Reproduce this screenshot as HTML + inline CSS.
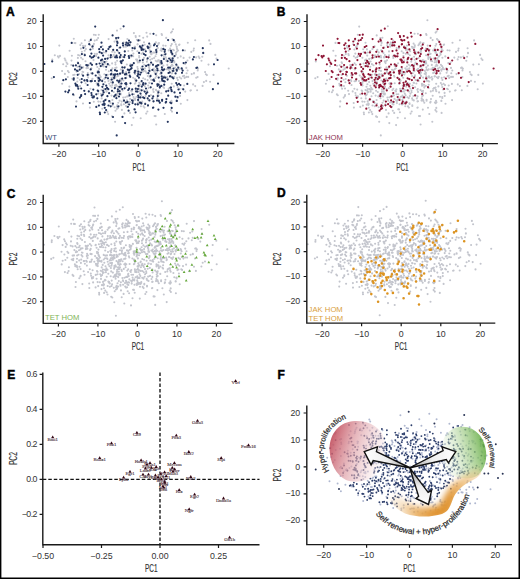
<!DOCTYPE html>
<html><head><meta charset="utf-8"><style>
html,body{margin:0;padding:0;background:#fff;width:520px;height:579px;overflow:hidden}

</style></head><body>
<svg width="520" height="579" viewBox="0 0 520 579" style="display:block;font-family:'Liberation Sans',sans-serif">
<rect x="0" y="0" width="520" height="579" fill="#000"/>
<rect x="1.4" y="1.5" width="517.1" height="576.0" fill="#fff"/>
<path d="M60.0 55.9h0M155.9 70.0h0M115.1 87.2h0M79.1 74.1h0M52.3 59.6h0M112.5 83.3h0M92.2 79.3h0M91.1 38.9h0M156.3 54.0h0M140.0 40.2h0M120.8 69.5h0M77.6 78.0h0M139.5 86.0h0M146.9 59.2h0M144.6 70.8h0M90.2 45.0h0M181.2 78.5h0M99.1 68.9h0M62.1 71.0h0M135.3 73.2h0M77.4 85.2h0M104.4 78.9h0M144.0 42.3h0M86.8 67.3h0M108.5 57.7h0M137.5 60.6h0M158.4 44.6h0M65.5 60.4h0M95.7 35.0h0M114.9 77.0h0M174.7 41.9h0M155.7 60.8h0M185.1 64.0h0M94.7 40.6h0M103.8 62.1h0M143.2 37.7h0M136.9 39.8h0M80.3 45.1h0M138.7 88.3h0M164.3 50.3h0M145.1 79.2h0M170.8 58.4h0M68.8 72.2h0M96.8 39.9h0M128.3 51.1h0M137.5 44.4h0M109.6 47.1h0M137.7 75.3h0M142.9 62.4h0M124.9 78.3h0M112.1 63.4h0M159.7 62.0h0M135.9 70.7h0M115.4 77.7h0M101.4 80.5h0M122.2 56.9h0M155.6 70.6h0M128.7 42.5h0M101.1 52.7h0M156.8 48.8h0M77.3 81.5h0M176.8 46.9h0M147.2 36.6h0M122.8 69.5h0M66.6 62.6h0M98.6 78.7h0M124.5 73.7h0M88.6 74.7h0M133.9 33.1h0M96.6 83.2h0M155.5 56.2h0M114.7 56.5h0M58.6 57.5h0M175.8 44.4h0M161.6 50.9h0M106.3 74.9h0M119.8 79.5h0M85.1 46.5h0M80.9 48.6h0M134.7 46.7h0M85.5 61.2h0M106.0 69.8h0M137.8 62.5h0M139.2 57.5h0M171.9 70.8h0M126.8 64.5h0M89.3 41.5h0M110.3 85.7h0M133.2 77.8h0M97.6 71.3h0M119.2 47.9h0M91.1 73.3h0M171.8 73.5h0M165.6 45.8h0M77.9 57.9h0M187.5 60.5h0M144.2 85.1h0M119.2 81.6h0M174.3 61.2h0M125.6 72.6h0M100.1 80.1h0M170.5 50.2h0M67.4 63.9h0M111.8 71.6h0M84.9 40.3h0M96.2 64.5h0M169.0 69.9h0M101.9 66.1h0M93.5 60.1h0M163.6 54.7h0M131.3 56.4h0M142.9 71.6h0M120.7 73.4h0M153.3 80.5h0M103.0 60.9h0M91.4 68.2h0M63.2 64.3h0M123.4 80.5h0M98.1 38.0h0M57.9 56.2h0M112.4 68.4h0M102.2 80.0h0M127.4 39.0h0M173.1 49.8h0M172.4 55.0h0M133.2 56.3h0M145.7 71.6h0M97.1 84.8h0M120.3 84.4h0M78.1 55.0h0M137.4 67.0h0M82.7 59.2h0M149.2 66.0h0M64.7 58.6h0M99.7 75.4h0M85.2 45.8h0M123.7 47.0h0M88.1 77.5h0M103.8 66.4h0M81.6 43.3h0M116.7 40.6h0M118.5 75.7h0M98.8 34.7h0M67.9 71.0h0M114.5 41.6h0M126.4 86.7h0M85.9 49.0h0M54.8 55.2h0M153.8 71.0h0M115.1 85.4h0M102.4 46.0h0M161.6 78.3h0M112.4 56.8h0M112.0 69.5h0M126.6 75.2h0M97.0 53.9h0M107.5 77.5h0M117.0 30.6h0M174.1 70.9h0M173.0 29.2h0M113.7 79.2h0M176.8 51.6h0M121.0 80.9h0M135.3 83.2h0M152.2 58.8h0M132.3 50.4h0M203.9 82.1h0M130.6 42.2h0M82.0 74.4h0M166.5 59.3h0M108.5 55.3h0M112.2 51.8h0M156.2 35.2h0M150.0 52.3h0M149.4 68.3h0M155.4 78.0h0M179.5 88.9h0M120.9 83.5h0M154.1 52.6h0M97.3 67.0h0M110.5 79.8h0M158.1 70.0h0M135.6 36.1h0M77.4 66.8h0M134.6 70.9h0M116.2 39.5h0M94.8 53.9h0M137.1 60.7h0M108.8 71.3h0M69.4 86.6h0M84.9 80.4h0M182.1 69.2h0M71.3 65.0h0M129.9 55.6h0M143.0 52.5h0M144.0 57.8h0M81.1 57.8h0M111.6 77.8h0M127.2 96.4h0M149.4 69.9h0M100.7 76.9h0M83.2 72.0h0M156.3 65.9h0M159.7 81.6h0M134.9 79.4h0M101.9 63.0h0M136.1 59.5h0M126.1 72.1h0M150.7 53.3h0M80.3 65.0h0M126.3 78.0h0M117.1 60.8h0M129.7 72.4h0M123.6 42.5h0M108.6 39.1h0M135.8 37.1h0M74.5 74.8h0M120.6 28.7h0M137.0 59.5h0M132.0 65.5h0M158.7 65.2h0M81.9 51.7h0M71.5 60.6h0M130.5 64.3h0M137.8 40.6h0M194.0 73.1h0M143.2 78.3h0M92.9 48.6h0M149.6 50.0h0M93.9 43.7h0M72.3 78.8h0M210.5 43.9h0M133.4 53.6h0M146.5 32.8h0M141.4 81.7h0M183.6 57.9h0M132.0 65.9h0M163.5 87.2h0M87.8 73.0h0M75.4 43.1h0M170.6 69.0h0M172.2 73.1h0M139.7 47.3h0M130.0 45.4h0M128.0 45.4h0M99.2 74.2h0M174.3 62.4h0M144.7 44.7h0M139.5 72.1h0M135.1 73.6h0M157.8 48.0h0M139.5 36.1h0M147.6 80.1h0M83.0 103.5h0M139.6 84.9h0M196.2 77.8h0M104.9 63.7h0M118.1 51.4h0M152.5 63.8h0M154.7 72.8h0M143.5 58.9h0M67.8 77.0h0M139.4 62.2h0M82.5 71.8h0M140.9 48.2h0M112.4 75.0h0M149.7 77.6h0M228.7 68.5h0M148.6 88.1h0M146.8 73.3h0M92.2 73.4h0M100.7 47.1h0M86.5 68.3h0M104.4 74.2h0M85.6 83.2h0M100.2 80.5h0M115.4 62.5h0M88.7 64.9h0M74.5 43.0h0M76.5 71.6h0M137.7 44.2h0M124.4 57.3h0M157.0 61.5h0M157.7 94.0h0M110.9 82.3h0M145.0 49.4h0M73.8 38.8h0M199.5 58.1h0M162.8 49.1h0M115.2 68.0h0M83.2 67.4h0M135.2 72.2h0M59.3 45.6h0M96.1 55.9h0M147.7 65.2h0M125.0 66.7h0M105.9 52.4h0M105.7 99.3h0M150.7 95.4h0M144.9 86.4h0M119.8 88.6h0M129.1 93.1h0M126.2 77.8h0M117.3 105.4h0M135.2 100.0h0M100.9 93.7h0M116.8 109.0h0M123.9 104.2h0M116.9 106.6h0M115.5 110.7h0M126.9 100.3h0M141.1 103.4h0M143.0 83.8h0M122.6 90.4h0M92.7 97.8h0M93.8 101.8h0M126.9 107.1h0M118.5 86.9h0M137.6 103.3h0M138.5 101.6h0M136.7 91.0h0M116.1 96.2h0M139.2 82.8h0M117.9 108.3h0M143.4 90.4h0M129.1 101.8h0M116.1 84.8h0M133.5 97.0h0M111.7 87.3h0M109.4 102.0h0M102.3 108.7h0M126.0 106.0h0M121.7 101.6h0M121.3 105.3h0M116.7 85.9h0M142.4 84.7h0M116.5 94.0h0M112.4 105.4h0M139.7 97.4h0M142.2 102.3h0M127.1 83.7h0M98.2 93.6h0M171.7 83.8h0M197.6 77.1h0M193.9 48.5h0M196.1 57.4h0M193.1 84.4h0M171.8 44.1h0M216.5 58.6h0M203.2 53.2h0M161.3 74.1h0M177.3 65.9h0M185.2 91.6h0M190.9 90.3h0M198.6 56.6h0M205.1 72.1h0M179.4 69.3h0M206.9 75.1h0M177.7 87.1h0M163.2 45.6h0M166.2 37.9h0M210.1 81.8h0M165.8 57.4h0M163.4 65.6h0M164.4 76.2h0M184.1 75.8h0M160.3 73.7h0M176.0 54.6h0M202.3 56.8h0M179.1 44.9h0M172.5 55.1h0M171.0 32.6h0M209.2 40.4h0M208.5 64.6h0M137.5 71.2h0M161.4 48.5h0M215.3 54.9h0M172.7 65.6h0M153.0 89.7h0M180.1 95.9h0M177.8 57.8h0M178.1 50.5h0M170.5 49.9h0M173.8 86.4h0M170.9 45.8h0M186.6 73.2h0M163.9 57.1h0M174.2 56.6h0M177.1 77.9h0M205.9 74.2h0M187.4 100.1h0M177.8 79.9h0M156.7 50.7h0M148.2 85.5h0M156.4 76.3h0M137.8 68.9h0M139.1 56.0h0M136.0 80.3h0M167.3 64.9h0M154.1 58.0h0M158.9 60.7h0M158.6 60.3h0M150.1 64.5h0M147.8 76.0h0M121.1 79.1h0M131.7 91.5h0M119.6 100.6h0M101.7 98.4h0M104.4 91.9h0M125.3 97.3h0M140.9 106.3h0M121.9 109.9h0M113.7 92.0h0M157.3 98.4h0M139.8 89.5h0M144.5 107.6h0M106.7 91.7h0M120.7 93.5h0M155.6 116.1h0M110.5 102.9h0M158.7 95.5h0M134.0 94.2h0M147.1 90.6h0M123.7 99.9h0M130.0 112.9h0M159.4 84.8h0M112.4 100.0h0M161.3 93.3h0M131.2 90.7h0M140.1 84.6h0M118.9 83.3h0M108.5 81.1h0M117.3 76.3h0M111.5 95.6h0M154.6 116.0h0M106.2 99.6h0M98.3 101.6h0M156.0 89.9h0M151.0 95.2h0M153.1 101.4h0M113.1 77.2h0M144.5 98.1h0M128.3 96.3h0M109.7 101.2h0M118.9 106.0h0M139.5 91.5h0M157.5 91.2h0M121.5 79.8h0M105.0 82.0h0M135.2 98.6h0M108.2 114.1h0M137.8 73.3h0M135.9 90.3h0M97.4 77.2h0M171.4 100.7h0M156.2 124.5h0M150.6 75.3h0M102.1 95.1h0M120.7 94.5h0M117.3 95.6h0M120.5 87.5h0M103.6 89.0h0M140.7 118.2h0M135.8 81.4h0M139.1 103.6h0M118.3 102.8h0M161.1 72.6h0M134.8 83.7h0M115.1 121.8h0M129.0 94.1h0M153.4 89.0h0M123.2 97.5h0M124.4 113.4h0M114.6 107.2h0M146.2 113.6h0M119.7 93.4h0M116.0 85.1h0M112.7 82.3h0M143.6 106.4h0M117.7 93.1h0M90.4 88.7h0M145.2 103.4h0M179.5 44.5h0M149.4 48.1h0M168.7 50.4h0M167.8 78.8h0M177.0 48.9h0M147.3 59.8h0M155.5 67.0h0M159.0 43.1h0M201.5 60.8h0M155.9 42.4h0M158.4 43.4h0M156.6 72.8h0M151.6 54.1h0M172.0 64.5h0M170.8 51.0h0M193.5 50.6h0M166.3 60.7h0M150.4 46.8h0M175.1 67.5h0M176.7 46.5h0M172.0 31.5h0M177.9 68.9h0M156.6 75.9h0M173.5 60.2h0M185.0 50.5h0M191.3 51.9h0M150.4 45.3h0M195.2 40.2h0M160.6 50.2h0M149.7 56.7h0M166.7 69.3h0M141.0 68.2h0M170.2 62.3h0M175.8 53.1h0M166.1 53.7h0M180.7 56.4h0M163.8 58.3h0M170.1 48.6h0M141.5 53.8h0M170.9 52.7h0M153.2 52.6h0M161.1 63.2h0M168.2 69.3h0M173.9 50.3h0M137.4 51.2h0M71.9 55.8h0M148.8 67.0h0M112.0 116.4h0M135.1 46.9h0M112.3 85.1h0M172.5 39.1h0M81.1 68.7h0M172.0 102.2h0M103.8 52.5h0M116.5 67.6h0M159.8 64.4h0M182.9 76.2h0M153.6 91.9h0M91.9 47.0h0M110.0 102.0h0M77.8 62.5h0M172.0 111.6h0M155.2 43.4h0M92.5 78.8h0M80.1 86.1h0M147.9 105.9h0M191.7 74.1h0M113.7 54.9h0M87.5 75.4h0M74.0 95.3h0M161.6 62.8h0M62.2 83.8h0M130.0 102.1h0M133.7 99.4h0M146.9 61.8h0M88.0 68.0h0M113.2 50.4h0M84.7 50.7h0M83.0 45.9h0M169.5 88.1h0M213.5 74.9h0M182.5 88.8h0M188.2 76.9h0M160.3 70.8h0M162.0 35.0h0M125.9 46.7h0M180.8 103.8h0M149.6 82.9h0M197.1 90.3h0M106.5 61.5h0M197.7 70.4h0M89.9 107.6h0M164.1 88.0h0M189.6 57.6h0M170.9 110.1h0M167.3 77.0h0M142.2 101.5h0M107.7 74.7h0M157.5 83.7h0M177.7 98.0h0M186.3 67.9h0M73.2 75.0h0M150.2 33.7h0M66.2 66.2h0M170.7 69.0h0M105.9 51.0h0M79.8 55.5h0M206.2 80.9h0M64.9 73.9h0M198.1 68.6h0M77.8 62.3h0M190.4 90.6h0M194.0 73.5h0M128.2 103.9h0M134.0 109.3h0M109.4 65.2h0M135.1 78.9h0M164.8 114.0h0M136.5 96.8h0M179.6 77.3h0M187.8 42.8h0M151.1 54.2h0M150.3 59.8h0M133.4 117.8h0M151.2 79.9h0M87.5 67.0h0M153.7 68.9h0M145.0 68.4h0M98.5 82.9h0M93.7 44.6h0M98.2 79.8h0M148.2 99.7h0M101.5 90.1h0M69.6 50.8h0M93.9 34.8h0M130.2 98.9h0M149.9 71.2h0M184.1 85.5h0M171.1 66.1h0M187.6 70.5h0M161.6 34.0h0M115.5 64.5h0M184.6 77.9h0M114.7 52.4h0M109.2 83.8h0M202.6 85.9h0M145.5 96.1h0M168.7 88.7h0M174.2 76.7h0M76.5 101.4h0M131.8 125.1h0M84.5 54.0h0M141.2 95.3h0M106.6 89.9h0M195.2 86.1h0M158.5 99.7h0M100.5 101.8h0M135.1 74.1h0M137.7 61.2h0M159.7 60.9h0M147.4 111.5h0M51.7 78.3h0M121.2 104.3h0M158.1 60.4h0M149.2 82.8h0M186.4 76.9h0M79.8 79.7h0M158.7 90.8h0M107.4 111.9h0M144.3 64.7h0" stroke="#c3c5cd" stroke-width="2.10" stroke-linecap="round" fill="none"/>
<path d="M114.8 88.2h0M143.1 84.7h0M134.7 109.4h0M128.8 56.2h0M119.9 57.1h0M166.1 101.9h0M170.0 76.4h0M137.9 89.1h0M141.4 103.5h0M77.7 74.8h0M115.2 57.3h0M109.4 47.1h0M130.7 66.1h0M81.6 67.7h0M73.8 78.3h0M77.7 86.5h0M170.4 76.3h0M140.5 97.4h0M117.2 80.5h0M161.8 76.4h0M142.6 45.6h0M146.1 65.9h0M106.2 85.7h0M173.5 68.6h0M169.9 67.7h0M83.1 75.7h0M111.8 79.6h0M157.4 84.4h0M79.9 97.6h0M75.4 83.7h0M77.7 71.0h0M129.0 40.5h0M196.4 67.9h0M148.5 47.3h0M104.8 107.8h0M143.9 54.0h0M99.6 52.2h0M150.5 76.2h0M158.9 100.9h0M165.0 49.8h0M123.1 45.5h0M152.4 98.4h0M98.5 77.9h0M153.6 101.3h0M121.5 83.5h0M122.5 116.9h0M163.9 59.0h0M98.0 84.2h0M87.7 74.8h0M147.7 98.3h0M110.7 57.3h0M97.7 90.6h0M183.6 63.1h0M107.8 64.3h0M120.7 61.4h0M171.5 52.3h0M153.3 107.5h0M122.3 67.3h0M187.3 83.9h0M85.1 94.1h0M91.4 93.0h0M108.3 89.2h0M124.6 88.3h0M154.7 44.3h0M115.0 70.2h0M129.1 57.9h0M93.2 57.1h0M156.5 66.3h0M180.4 85.1h0M139.9 60.5h0M98.9 105.6h0M119.9 57.5h0M162.1 99.8h0M129.7 75.7h0M169.1 58.5h0M137.5 75.9h0M160.0 86.7h0M157.5 85.8h0M81.2 95.1h0M145.5 55.2h0M130.7 69.1h0M183.3 89.3h0M77.0 85.2h0M148.3 47.4h0M145.6 83.7h0M107.4 96.2h0M103.4 84.3h0M120.0 73.7h0M115.3 74.4h0M148.1 48.1h0M149.3 70.8h0M159.8 87.6h0M75.9 65.3h0M95.0 81.0h0M116.5 55.7h0M140.9 102.9h0M163.7 81.1h0M105.1 58.9h0M163.0 70.3h0M158.0 65.2h0M177.2 84.8h0M105.3 100.1h0M95.7 75.5h0M87.0 80.1h0M174.5 92.4h0M116.9 70.9h0M107.1 87.8h0M119.5 86.8h0M83.4 47.8h0M65.9 79.3h0M132.4 94.3h0M177.6 97.0h0M142.0 69.7h0M167.6 79.6h0M182.7 70.6h0M135.6 112.3h0M143.3 83.1h0M151.1 62.6h0M92.0 64.8h0M135.8 88.7h0M156.0 66.3h0M102.8 94.5h0M148.0 105.3h0M73.7 79.7h0M127.9 106.8h0M138.5 40.4h0M141.7 48.2h0M92.6 46.4h0M139.1 52.9h0M99.2 49.2h0M163.9 77.3h0M99.9 79.9h0M101.8 53.2h0M130.4 65.7h0M170.7 87.7h0M79.7 69.6h0M165.4 77.7h0M84.4 80.4h0M98.8 81.0h0M157.8 96.1h0M132.2 89.4h0M69.1 90.4h0M90.6 63.3h0M168.2 95.7h0M104.6 62.0h0M178.5 89.5h0M176.6 69.6h0M87.6 65.4h0M75.9 85.6h0M176.2 83.0h0M122.9 60.3h0M145.2 104.0h0M102.6 104.6h0M119.7 94.1h0M93.7 97.3h0M162.1 69.6h0M103.1 55.6h0M84.8 55.2h0M127.8 69.7h0M176.8 70.7h0M126.3 73.9h0M166.4 99.1h0M149.1 96.0h0M157.3 68.5h0M88.8 91.4h0M92.4 73.4h0M84.3 90.8h0M117.9 89.3h0M110.5 46.4h0M173.4 78.3h0M73.2 65.7h0M118.8 82.0h0M119.6 91.2h0M145.8 51.3h0M171.8 62.0h0M114.1 77.9h0M132.6 103.1h0M141.8 86.6h0M129.1 88.7h0M164.7 51.8h0M164.7 81.5h0M144.3 98.1h0M176.9 100.9h0M81.8 79.0h0M171.7 91.2h0M181.7 68.4h0M169.7 72.4h0M168.5 73.0h0M134.7 48.4h0M129.4 45.1h0M141.6 49.9h0M90.6 81.2h0M185.9 62.5h0M98.5 85.4h0M156.1 50.0h0M124.0 100.7h0M175.6 73.4h0M120.2 47.5h0M164.2 84.7h0M102.2 81.1h0M153.0 107.8h0M98.2 91.1h0M93.9 96.4h0M149.2 43.6h0M93.3 89.6h0M176.3 64.7h0M125.5 78.1h0M161.4 85.9h0M170.3 102.5h0M164.2 69.4h0M113.2 49.8h0M108.4 49.0h0M170.6 60.1h0M101.7 95.6h0M138.1 99.9h0M121.1 62.5h0M147.3 92.3h0M146.1 93.7h0M161.6 55.3h0M140.0 102.6h0M150.7 87.3h0M141.0 47.4h0M109.1 93.2h0M96.3 94.3h0M91.7 95.2h0M174.6 56.0h0M115.5 94.9h0M116.4 98.2h0M158.4 109.6h0M149.4 100.4h0M102.9 49.4h0M122.2 89.1h0M157.0 100.6h0M158.5 84.7h0M150.9 51.6h0M155.7 74.1h0M112.0 90.8h0M139.9 46.3h0M81.2 88.5h0M162.3 80.7h0M91.4 53.6h0M124.8 51.4h0M98.8 72.2h0M119.0 96.5h0M161.7 63.5h0M102.7 64.4h0M165.2 54.3h0M104.2 103.6h0M126.2 84.5h0M81.9 54.1h0M90.0 56.3h0M91.8 81.1h0M125.0 74.4h0M124.8 55.2h0M110.9 55.2h0M79.5 66.5h0M153.0 64.8h0M129.2 104.5h0M108.0 78.3h0M119.3 53.0h0M161.4 62.4h0M132.7 100.9h0M147.7 58.3h0M156.4 52.1h0M161.9 67.4h0M117.8 91.3h0M102.1 59.6h0M120.9 86.7h0M81.1 96.0h0M134.6 72.6h0M217.6 60.0h0M171.3 89.8h0M90.7 69.4h0M99.2 78.4h0M166.2 91.4h0M101.0 47.0h0M105.7 77.5h0M162.0 79.1h0M161.3 61.1h0M117.0 57.4h0M90.4 49.5h0M75.0 69.4h0M105.4 89.1h0M157.2 65.6h0M107.8 64.1h0M147.6 46.7h0M197.1 67.5h0M172.3 53.9h0M89.2 44.2h0M161.4 72.9h0M171.7 107.9h0M103.7 101.4h0M96.3 106.9h0M126.4 42.6h0M73.1 94.4h0M182.9 50.3h0M44.4 64.0h0M90.8 40.0h0M120.7 55.1h0M122.2 78.6h0M136.3 80.6h0M140.1 74.6h0M122.7 72.7h0M171.0 87.6h0M53.9 77.1h0M130.4 42.3h0M104.8 112.5h0M135.1 70.9h0M138.2 95.6h0M97.8 72.4h0M107.5 58.6h0M158.7 77.6h0M142.8 60.0h0M106.1 110.1h0M203.2 52.9h0M212.9 89.2h0M78.1 63.2h0M141.1 72.5h0M158.4 92.4h0M138.3 71.7h0M122.9 43.4h0M111.0 70.3h0M122.8 70.9h0M110.7 106.3h0M157.0 46.0h0M116.1 38.1h0M114.6 75.8h0M87.4 81.1h0M128.6 110.7h0M98.4 57.7h0M167.6 61.2h0M143.4 49.6h0M148.4 64.9h0M143.1 97.3h0M132.5 48.0h0M125.8 102.6h0M119.4 80.9h0M157.5 70.5h0M91.6 57.7h0M178.3 67.6h0M131.6 68.2h0M103.6 92.5h0M112.9 103.7h0M106.2 75.1h0M136.1 91.5h0M104.7 104.1h0M171.2 103.2h0M102.4 86.8h0M104.2 105.0h0M128.9 72.5h0M168.2 67.7h0M153.5 33.8h0M103.1 90.8h0M193.9 57.0h0M141.7 81.0h0M130.5 83.3h0M168.1 40.1h0M218.0 83.6h0M176.7 100.9h0M135.3 104.3h0M143.0 69.3h0M152.4 69.9h0M108.5 105.5h0M92.5 97.3h0M132.2 65.1h0M96.5 64.1h0M128.2 90.0h0M133.8 63.2h0M214.0 64.3h0M100.0 114.2h0M126.0 83.0h0M124.5 67.6h0M146.0 88.5h0M167.8 121.8h0M112.8 82.4h0M101.0 60.4h0M71.7 42.9h0M132.0 100.3h0M94.1 56.1h0M117.0 50.2h0M131.5 55.5h0M148.4 73.2h0M109.2 101.0h0M121.4 63.1h0M65.4 91.6h0M52.2 61.4h0M118.3 37.8h0M138.2 95.7h0M117.0 45.3h0M101.5 42.7h0M128.2 43.4h0M130.2 76.8h0M127.4 101.9h0M63.3 80.2h0M125.1 123.1h0M99.8 112.5h0M110.8 74.4h0M138.5 97.4h0M153.3 79.9h0M162.4 78.7h0M112.6 35.4h0M163.4 48.9h0M172.3 77.3h0M171.0 50.8h0M180.0 92.9h0M125.2 83.5h0M124.1 57.1h0M159.8 102.7h0M81.5 82.3h0M137.8 104.4h0M111.4 73.9h0M117.2 41.8h0M68.1 92.3h0M98.5 71.6h0M129.6 95.4h0M162.1 100.8h0M165.7 102.6h0M127.5 45.5h0M123.6 26.3h0M100.7 66.1h0M144.7 91.6h0M121.5 61.4h0M152.0 83.5h0M192.9 59.4h0M129.2 70.2h0M76.9 70.5h0M99.6 63.5h0M78.3 88.7h0M87.6 85.0h0M177.0 112.9h0M138.5 85.8h0M76.0 106.6h0M153.7 79.5h0M175.4 96.7h0M117.5 74.2h0M106.2 66.8h0M118.3 106.5h0M140.5 93.6h0M153.2 96.4h0M172.6 60.6h0M173.7 40.2h0M172.7 58.3h0M179.0 83.8h0M154.0 45.3h0M125.7 44.6h0M141.6 90.3h0M116.7 135.4h0M162.9 20.2h0M117.5 42.9h0M97.3 98.3h0M182.0 72.8h0M154.2 80.9h0M138.2 74.2h0M163.5 107.8h0M168.3 90.8h0M142.5 66.5h0M106.2 51.0h0M114.0 74.7h0M95.2 26.6h0M137.5 91.6h0M173.0 70.9h0M113.0 117.0h0M89.8 103.0h0M202.8 48.2h0M114.2 96.4h0M86.3 65.1h0M138.9 77.7h0" stroke="#24355e" stroke-width="2.20" stroke-linecap="round" fill="none"/>
<path d="M43.2 14.2V143.5H234.4" stroke="#1a1a1a" stroke-width="1.4" fill="none"/>
<text x="58.9" y="157.3" font-size="8.80" fill="#333" text-anchor="middle" font-weight="normal">−20</text>
<text x="98.6" y="157.3" font-size="8.80" fill="#333" text-anchor="middle" font-weight="normal">−10</text>
<text x="138.3" y="157.3" font-size="8.80" fill="#333" text-anchor="middle" font-weight="normal">0</text>
<text x="178.0" y="157.3" font-size="8.80" fill="#333" text-anchor="middle" font-weight="normal">10</text>
<text x="217.7" y="157.3" font-size="8.80" fill="#333" text-anchor="middle" font-weight="normal">20</text>
<text x="36.6" y="123.9" font-size="8.80" fill="#333" text-anchor="end" font-weight="normal">−20</text>
<text x="36.6" y="99.0" font-size="8.80" fill="#333" text-anchor="end" font-weight="normal">−10</text>
<text x="36.6" y="74.0" font-size="8.80" fill="#333" text-anchor="end" font-weight="normal">0</text>
<text x="36.6" y="49.1" font-size="8.80" fill="#333" text-anchor="end" font-weight="normal">10</text>
<text x="36.6" y="24.1" font-size="8.80" fill="#333" text-anchor="end" font-weight="normal">20</text>
<path d="M58.9 143.5v3.2M98.6 143.5v3.2M138.3 143.5v3.2M178.0 143.5v3.2M217.7 143.5v3.2M43.2 121.3h-3.2M43.2 96.4h-3.2M43.2 71.4h-3.2M43.2 46.5h-3.2M43.2 21.5h-3.2" stroke="#1a1a1a" stroke-width="1.2" fill="none"/>
<text transform="translate(138.8 170.5) scale(0.62 1)" font-size="10.4" fill="#333" stroke="#333" stroke-width="0.18" text-anchor="middle">PC1</text>
<text transform="translate(17.3 78.8) rotate(-90) scale(0.64 1)" font-size="10.4" fill="#333" stroke="#333" stroke-width="0.18" text-anchor="middle">PC2</text>
<text x="6.0" y="15.8" font-size="12.00" fill="#000" text-anchor="start" font-weight="bold" stroke="#000" stroke-width="0.45">A</text>
<text x="45.0" y="140.1" font-size="7.70" fill="#3b4f7a" text-anchor="start" font-weight="normal">WT</text>
<path d="M379.0 88.2h0M407.4 84.7h0M399.0 109.4h0M393.0 56.2h0M384.0 57.1h0M430.6 101.9h0M434.6 76.4h0M402.2 89.1h0M405.7 103.5h0M341.6 74.8h0M379.3 57.3h0M373.5 47.1h0M395.0 66.1h0M345.5 67.7h0M337.7 78.3h0M341.5 86.5h0M435.0 76.3h0M404.8 97.4h0M381.4 80.5h0M426.3 76.4h0M407.0 45.6h0M410.4 65.9h0M370.3 85.7h0M438.0 68.6h0M434.4 67.7h0M346.9 75.7h0M375.9 79.6h0M421.9 84.4h0M343.7 97.6h0M339.3 83.7h0M341.6 71.0h0M393.3 40.5h0M461.1 67.9h0M412.8 47.3h0M368.8 107.8h0M408.3 54.0h0M363.6 52.2h0M414.9 76.2h0M423.4 100.9h0M429.5 49.8h0M387.3 45.5h0M416.8 98.4h0M362.5 77.9h0M418.0 101.3h0M385.6 83.5h0M386.7 116.9h0M428.4 59.0h0M362.0 84.2h0M351.6 74.8h0M412.1 98.3h0M374.8 57.3h0M361.7 90.6h0M448.3 63.1h0M371.9 64.3h0M384.8 61.4h0M436.0 52.3h0M417.7 107.5h0M386.4 67.3h0M451.9 83.9h0M349.0 94.1h0M355.4 93.0h0M372.4 89.2h0M388.8 88.3h0M419.1 44.3h0M379.1 70.2h0M393.3 57.9h0M357.2 57.1h0M420.9 66.3h0M445.0 85.1h0M404.2 60.5h0M362.9 105.6h0M384.1 57.5h0M426.6 99.8h0M394.0 75.7h0M433.6 58.5h0M401.8 75.9h0M424.4 86.7h0M422.0 85.8h0M345.1 95.1h0M409.9 55.2h0M394.9 69.1h0M447.9 89.3h0M340.8 85.2h0M412.7 47.4h0M409.9 83.7h0M371.5 96.2h0M367.4 84.3h0M384.2 73.7h0M379.4 74.4h0M412.5 48.1h0M413.7 70.8h0M424.3 87.6h0M339.7 65.3h0M359.0 81.0h0M380.7 55.7h0M405.3 102.9h0M428.2 81.1h0M369.2 58.9h0M427.5 70.3h0M422.4 65.2h0M441.8 84.8h0M369.4 100.1h0M359.7 75.5h0M350.9 80.1h0M439.1 92.4h0M381.0 70.9h0M371.2 87.8h0M383.7 86.8h0M347.3 47.8h0M329.7 79.3h0M396.6 94.3h0M442.2 97.0h0M406.3 69.7h0M432.1 79.6h0M447.4 70.6h0M399.9 112.3h0M407.6 83.1h0M415.5 62.6h0M355.9 64.8h0M400.1 88.7h0M420.5 66.3h0M366.8 94.5h0M412.3 105.3h0M337.5 79.7h0M392.1 106.8h0M402.8 40.4h0M406.0 48.2h0M356.6 46.4h0M403.4 52.9h0M363.2 49.2h0M428.4 77.3h0M363.9 79.9h0M365.8 53.2h0M394.7 65.7h0M435.2 87.7h0M343.5 69.6h0M429.9 77.7h0M348.3 80.4h0M362.8 81.0h0M422.2 96.1h0M396.4 89.4h0M332.9 90.4h0M354.5 63.3h0M432.7 95.7h0M368.7 62.0h0M443.1 89.5h0M441.2 69.6h0M351.5 65.4h0M339.7 85.6h0M440.8 83.0h0M387.1 60.3h0M409.6 104.0h0M366.7 104.6h0M383.9 94.1h0M357.7 97.3h0M426.6 69.6h0M367.2 55.6h0M348.7 55.2h0M392.0 69.7h0M441.4 70.7h0M390.5 73.9h0M431.0 99.1h0M413.4 96.0h0M421.7 68.5h0M352.7 91.4h0M356.3 73.4h0M348.2 90.8h0M382.0 89.3h0M374.6 46.4h0M438.0 78.3h0M337.0 65.7h0M383.0 82.0h0M383.7 91.2h0M410.2 51.3h0M436.4 62.0h0M378.2 77.9h0M396.9 103.1h0M406.2 86.6h0M393.3 88.7h0M429.2 51.8h0M429.2 81.5h0M408.7 98.1h0M441.4 100.9h0M345.7 79.0h0M436.3 91.2h0M446.3 68.4h0M434.2 72.4h0M433.1 73.0h0M398.9 48.4h0M393.6 45.1h0M406.0 49.9h0M354.5 81.2h0M450.5 62.5h0M362.5 85.4h0M420.5 50.0h0M388.2 100.7h0M440.2 73.4h0M384.3 47.5h0M428.7 84.7h0M366.3 81.1h0M417.4 107.8h0M362.2 91.1h0M357.9 96.4h0M413.6 43.6h0M357.2 89.6h0M440.9 64.7h0M389.7 78.1h0M425.8 85.9h0M434.9 102.5h0M428.7 69.4h0M377.3 49.8h0M372.4 49.0h0M435.1 60.1h0M365.7 95.6h0M402.4 99.9h0M385.3 62.5h0M411.6 92.3h0M410.4 93.7h0M426.1 55.3h0M404.3 102.6h0M415.1 87.3h0M405.3 47.4h0M373.2 93.2h0M360.3 94.3h0M355.7 95.2h0M439.2 56.0h0M379.7 94.9h0M380.5 98.2h0M422.8 109.6h0M413.8 100.4h0M366.9 49.4h0M386.4 89.1h0M421.5 100.6h0M423.0 84.7h0M415.3 51.6h0M420.2 74.1h0M376.1 90.8h0M404.2 46.3h0M345.0 88.5h0M426.7 80.7h0M355.3 53.6h0M389.0 51.4h0M362.8 72.2h0M383.1 96.5h0M426.2 63.5h0M366.8 64.4h0M429.7 54.3h0M368.3 103.6h0M390.4 84.5h0M345.8 54.1h0M353.9 56.3h0M355.8 81.1h0M389.2 74.4h0M389.0 55.2h0M375.0 55.2h0M343.4 66.5h0M417.4 64.8h0M393.5 104.5h0M372.1 78.3h0M383.5 53.0h0M425.9 62.4h0M396.9 100.9h0M412.1 58.3h0M420.8 52.1h0M426.3 67.4h0M382.0 91.3h0M366.1 59.6h0M385.0 86.7h0M344.9 96.0h0M398.9 72.6h0M482.5 60.0h0M435.8 89.8h0M354.7 69.4h0M363.2 78.4h0M430.8 91.4h0M365.0 47.0h0M369.8 77.5h0M426.5 79.1h0M425.7 61.1h0M381.1 57.4h0M354.4 49.5h0M338.8 69.4h0M369.4 89.1h0M421.6 65.6h0M371.9 64.1h0M411.9 46.7h0M461.9 67.5h0M436.8 53.9h0M353.2 44.2h0M425.9 72.9h0M436.3 107.9h0M367.7 101.4h0M360.3 106.9h0M390.7 42.6h0M336.9 94.4h0M447.5 50.3h0M308.0 64.0h0M354.8 40.0h0M384.9 55.1h0M386.4 78.6h0M400.6 80.6h0M404.4 74.6h0M386.9 72.7h0M435.5 87.6h0M317.6 77.1h0M394.6 42.3h0M368.9 112.5h0M399.4 70.9h0M402.5 95.6h0M361.8 72.4h0M371.5 58.6h0M423.1 77.6h0M407.2 60.0h0M370.1 110.1h0M468.0 52.9h0M477.7 89.2h0M342.0 63.2h0M405.5 72.5h0M422.8 92.4h0M402.6 71.7h0M387.1 43.4h0M375.1 70.3h0M386.9 70.9h0M374.8 106.3h0M421.4 46.0h0M380.3 38.1h0M378.7 75.8h0M351.3 81.1h0M392.8 110.7h0M362.4 57.7h0M432.1 61.2h0M407.8 49.6h0M412.8 64.9h0M407.4 97.3h0M396.7 48.0h0M390.0 102.6h0M383.5 80.9h0M421.9 70.5h0M355.6 57.7h0M442.9 67.6h0M395.8 68.2h0M367.6 92.5h0M377.0 103.7h0M370.2 75.1h0M400.4 91.5h0M368.8 104.1h0M435.7 103.2h0M366.5 86.8h0M368.3 105.0h0M393.2 72.5h0M432.7 67.7h0M417.9 33.8h0M367.2 90.8h0M458.6 57.0h0M406.1 81.0h0M394.7 83.3h0M432.6 40.1h0M482.9 83.6h0M441.3 100.9h0M399.6 104.3h0M407.4 69.3h0M416.8 69.9h0M372.5 105.5h0M356.5 97.3h0M396.5 65.1h0M360.5 64.1h0M392.4 90.0h0M398.1 63.2h0M478.9 64.3h0M364.0 114.2h0M390.2 83.0h0M388.7 67.6h0M410.3 88.5h0M432.3 121.8h0M376.9 82.4h0M365.0 60.4h0M335.5 42.9h0M396.2 100.3h0M358.0 56.1h0M381.2 50.2h0M395.7 55.5h0M412.7 73.2h0M373.2 101.0h0M385.6 63.1h0M329.1 91.6h0M315.8 61.4h0M382.4 37.8h0M402.5 95.7h0M381.1 45.3h0M365.5 42.7h0M392.4 43.4h0M394.4 76.8h0M391.6 101.9h0M327.0 80.2h0M389.3 123.1h0M363.8 112.5h0M374.9 74.4h0M402.8 97.4h0M417.7 79.9h0M426.9 78.7h0M376.7 35.4h0M427.9 48.9h0M436.9 77.3h0M435.5 50.8h0M444.6 92.9h0M389.4 83.5h0M388.3 57.1h0M424.3 102.7h0M345.4 82.3h0M402.1 104.4h0M375.5 73.9h0M381.3 41.8h0M331.9 92.3h0M362.5 71.6h0M393.9 95.4h0M426.6 100.8h0M430.2 102.6h0M391.7 45.5h0M387.8 26.3h0M364.7 66.1h0M409.1 91.6h0M385.7 61.4h0M416.4 83.5h0M457.7 59.4h0M393.4 70.2h0M340.7 70.5h0M363.6 63.5h0M342.1 88.7h0M351.5 85.0h0M441.6 112.9h0M402.8 85.8h0M339.9 106.6h0M418.1 79.5h0M440.0 96.7h0M381.6 74.2h0M370.3 66.8h0M382.5 106.5h0M404.8 93.6h0M417.6 96.4h0M437.2 60.6h0M438.2 40.2h0M437.3 58.3h0M443.6 83.8h0M418.4 45.3h0M389.9 44.6h0M405.9 90.3h0M380.8 135.4h0M427.4 20.2h0M381.6 42.9h0M361.3 98.3h0M446.6 72.8h0M418.6 80.9h0M402.5 74.2h0M428.0 107.8h0M432.9 90.8h0M406.9 66.5h0M370.3 51.0h0M378.2 74.7h0M359.2 26.6h0M401.8 91.6h0M437.5 70.9h0M377.1 117.0h0M353.7 103.0h0M467.6 48.2h0M378.3 96.4h0M350.2 65.1h0M403.2 77.7h0M436.2 83.8h0M462.4 77.1h0M458.6 48.5h0M460.9 57.4h0M457.8 84.4h0M436.3 44.1h0M481.4 58.6h0M468.0 53.2h0M425.8 74.1h0M441.9 65.9h0M449.8 91.6h0M455.6 90.3h0M463.4 56.6h0M469.9 72.1h0M444.0 69.3h0M471.7 75.1h0M442.3 87.1h0M427.7 45.6h0M430.7 37.9h0M474.9 81.8h0M430.3 57.4h0M427.9 65.6h0M428.9 76.2h0M448.7 75.8h0M424.7 73.7h0M440.6 54.6h0M467.1 56.8h0M443.7 44.9h0M437.1 55.1h0M435.6 32.6h0M474.1 40.4h0M473.3 64.6h0M401.8 71.2h0M425.9 48.5h0M480.1 54.9h0M437.3 65.6h0M417.4 89.7h0M444.7 95.9h0M442.4 57.8h0M442.7 50.5h0M435.0 49.9h0M438.4 86.4h0M435.5 45.8h0M451.3 73.2h0M428.3 57.1h0M438.8 56.6h0M441.7 77.9h0M470.7 74.2h0M452.1 100.1h0M442.4 79.9h0M421.1 50.7h0M412.6 85.5h0M420.9 76.3h0M402.1 68.9h0M403.4 56.0h0M400.2 80.3h0M431.8 64.9h0M418.5 58.0h0M423.4 60.7h0M423.1 60.3h0M414.5 64.5h0M412.1 76.0h0M385.2 79.1h0M396.0 91.5h0M383.7 100.6h0M365.8 98.4h0M368.4 91.9h0M389.5 97.3h0M405.3 106.3h0M386.0 109.9h0M377.8 92.0h0M421.7 98.4h0M404.1 89.5h0M408.9 107.6h0M370.7 91.7h0M384.9 93.5h0M420.0 116.1h0M374.6 102.9h0M423.1 95.5h0M398.3 94.2h0M411.5 90.6h0M387.9 99.9h0M394.2 112.9h0M423.9 84.8h0M376.6 100.0h0M425.8 93.3h0M395.4 90.7h0M404.4 84.6h0M383.1 83.3h0M372.5 81.1h0M381.5 76.3h0M375.6 95.6h0M419.0 116.0h0M370.3 99.6h0M362.3 101.6h0M420.5 89.9h0M415.4 95.2h0M417.5 101.4h0M377.2 77.2h0M408.8 98.1h0M392.5 96.3h0M373.8 101.2h0M383.0 106.0h0M403.8 91.5h0M421.9 91.2h0M385.7 79.8h0M369.1 82.0h0M399.5 98.6h0M372.3 114.1h0M402.1 73.3h0M400.2 90.3h0M361.4 77.2h0M436.0 100.7h0M420.6 124.5h0M415.0 75.3h0M366.2 95.1h0M384.8 94.5h0M381.5 95.6h0M384.6 87.5h0M367.6 89.0h0M405.0 118.2h0M400.1 81.4h0M403.4 103.6h0M382.5 102.8h0M425.6 72.6h0M399.1 83.7h0M379.2 121.8h0M393.2 94.1h0M417.8 89.0h0M387.4 97.5h0M388.6 113.4h0M378.7 107.2h0M410.6 113.6h0M383.9 93.4h0M380.1 85.1h0M376.8 82.3h0M408.0 106.4h0M381.8 93.1h0M354.4 88.7h0M409.5 103.4h0M444.1 44.5h0M413.8 48.1h0M433.2 50.4h0M432.4 78.8h0M441.6 48.9h0M411.6 59.8h0M420.0 67.0h0M423.5 43.1h0M466.3 60.8h0M420.4 42.4h0M422.8 43.4h0M421.0 72.8h0M416.0 54.1h0M436.5 64.5h0M435.3 51.0h0M458.2 50.6h0M430.8 60.7h0M414.8 46.8h0M439.7 67.5h0M441.3 46.5h0M436.5 31.5h0M442.5 68.9h0M421.1 75.9h0M438.1 60.2h0M449.6 50.5h0M456.0 51.9h0M414.8 45.3h0M459.9 40.2h0M425.1 50.2h0M414.1 56.7h0M431.2 69.3h0M405.3 68.2h0M434.7 62.3h0M440.4 53.1h0M430.6 53.7h0M445.3 56.4h0M428.3 58.3h0M434.7 48.6h0M405.8 53.8h0M435.5 52.7h0M417.6 52.6h0M425.6 63.2h0M432.7 69.3h0M438.4 50.3h0M401.7 51.2h0M335.7 55.8h0M413.1 67.0h0M376.1 116.4h0M399.4 46.9h0M376.4 85.1h0M437.0 39.1h0M345.0 68.7h0M436.5 102.2h0M367.8 52.5h0M380.7 67.6h0M424.3 64.4h0M447.6 76.2h0M418.0 91.9h0M355.9 47.0h0M374.1 102.0h0M341.7 62.5h0M436.5 111.6h0M419.6 43.4h0M356.5 78.8h0M343.9 86.1h0M412.3 105.9h0M456.5 74.1h0M377.8 54.9h0M351.4 75.4h0M337.8 95.3h0M426.1 62.8h0M325.9 83.8h0M394.2 102.1h0M398.0 99.4h0M411.3 61.8h0M351.9 68.0h0M377.3 50.4h0M348.6 50.7h0M346.9 45.9h0M434.0 88.1h0M478.3 74.9h0M447.1 88.8h0M452.9 76.9h0M424.8 70.8h0M426.5 35.0h0M390.1 46.7h0M445.5 103.8h0M414.0 82.9h0M461.8 90.3h0M370.6 61.5h0M462.5 70.4h0M353.9 107.6h0M428.6 88.0h0M454.3 57.6h0M435.4 110.1h0M431.8 77.0h0M406.5 101.5h0M371.8 74.7h0M421.9 83.7h0M442.3 98.0h0M451.0 67.9h0M337.0 75.0h0M414.6 33.7h0M330.0 66.2h0M435.3 69.0h0M370.0 51.0h0M343.6 55.5h0M471.0 80.9h0M328.6 73.9h0M462.9 68.6h0M341.6 62.3h0M455.1 90.6h0M458.8 73.5h0M392.5 103.9h0M398.3 109.3h0M373.5 65.2h0M399.3 78.9h0M429.3 114.0h0M400.8 96.8h0M444.2 77.3h0M452.5 42.8h0M415.5 54.2h0M414.7 59.8h0M397.7 117.8h0M415.6 79.9h0M351.4 67.0h0M418.1 68.9h0M409.3 68.4h0M362.5 82.9h0M357.6 44.6h0M362.2 79.8h0M412.5 99.7h0M365.5 90.1h0M333.3 50.8h0M357.8 34.8h0M394.5 98.9h0M414.3 71.2h0M448.7 85.5h0M435.7 66.1h0M452.3 70.5h0M426.1 34.0h0M379.7 64.5h0M449.2 77.9h0M378.8 52.4h0M373.3 83.8h0M467.4 85.9h0M409.8 96.1h0M433.3 88.7h0M438.8 76.7h0M340.3 101.4h0M396.1 125.1h0M348.4 54.0h0M405.6 95.3h0M370.7 89.9h0M459.9 86.1h0M423.0 99.7h0M364.5 101.8h0M399.4 74.1h0M401.9 61.2h0M424.2 60.9h0M411.7 111.5h0M315.3 78.3h0M385.4 104.3h0M422.5 60.4h0M413.6 82.8h0M451.1 76.9h0M343.6 79.7h0M423.1 90.8h0M371.5 111.9h0M408.7 64.7h0" stroke="#c3c5cd" stroke-width="2.10" stroke-linecap="round" fill="none"/>
<path d="M323.7 55.9h0M420.3 70.0h0M379.2 87.2h0M342.9 74.1h0M315.9 59.6h0M376.6 83.3h0M356.2 79.3h0M355.1 38.9h0M420.8 54.0h0M404.3 40.2h0M385.0 69.5h0M341.5 78.0h0M403.8 86.0h0M411.3 59.2h0M409.0 70.8h0M354.1 45.0h0M445.9 78.5h0M363.1 68.9h0M325.8 71.0h0M399.6 73.2h0M341.2 85.2h0M368.5 78.9h0M408.4 42.3h0M350.7 67.3h0M372.6 57.7h0M401.8 60.6h0M422.8 44.6h0M329.2 60.4h0M359.7 35.0h0M379.1 77.0h0M439.3 41.9h0M420.1 60.8h0M449.8 64.0h0M358.7 40.6h0M367.8 62.1h0M407.5 37.7h0M401.2 39.8h0M344.2 45.1h0M403.0 88.3h0M428.8 50.3h0M409.4 79.2h0M435.3 58.4h0M332.6 72.2h0M360.8 39.9h0M392.5 51.1h0M401.8 44.4h0M373.6 47.1h0M402.0 75.3h0M407.3 62.4h0M389.1 78.3h0M376.2 63.4h0M424.1 62.0h0M400.1 70.7h0M379.5 77.7h0M365.5 80.5h0M386.4 56.9h0M420.1 70.6h0M392.9 42.5h0M365.1 52.7h0M421.2 48.8h0M341.1 81.5h0M441.4 46.9h0M411.6 36.6h0M387.0 69.5h0M330.4 62.6h0M362.6 78.7h0M388.7 73.7h0M352.5 74.7h0M398.1 33.1h0M360.6 83.2h0M419.9 56.2h0M378.9 56.5h0M322.3 57.5h0M440.4 44.4h0M426.0 50.9h0M370.4 74.9h0M384.0 79.5h0M349.0 46.5h0M344.8 48.6h0M399.0 46.7h0M349.4 61.2h0M370.0 69.8h0M402.1 62.5h0M403.5 57.5h0M436.5 70.8h0M391.0 64.5h0M353.3 41.5h0M374.4 85.7h0M397.5 77.8h0M361.6 71.3h0M383.3 47.9h0M355.1 73.3h0M436.3 73.5h0M430.1 45.8h0M341.8 57.9h0M452.2 60.5h0M408.5 85.1h0M383.3 81.6h0M438.9 61.2h0M389.8 72.6h0M364.2 80.1h0M435.0 50.2h0M331.2 63.9h0M375.9 71.6h0M348.8 40.3h0M360.2 64.5h0M433.5 69.9h0M365.9 66.1h0M357.4 60.1h0M428.1 54.7h0M395.6 56.4h0M407.2 71.6h0M384.9 73.4h0M417.7 80.5h0M367.1 60.9h0M355.4 68.2h0M326.9 64.3h0M387.6 80.5h0M362.1 38.0h0M321.6 56.2h0M376.5 68.4h0M366.3 80.0h0M391.6 39.0h0M437.7 49.8h0M436.9 55.0h0M397.5 56.3h0M410.0 71.6h0M361.1 84.8h0M384.5 84.4h0M342.0 55.0h0M401.7 67.0h0M346.6 59.2h0M413.6 66.0h0M328.5 58.6h0M363.7 75.4h0M349.1 45.8h0M387.9 47.0h0M352.0 77.5h0M367.9 66.4h0M345.5 43.3h0M380.8 40.6h0M382.7 75.7h0M362.8 34.7h0M331.7 71.0h0M378.6 41.6h0M390.6 86.7h0M349.8 49.0h0M318.5 55.2h0M418.2 71.0h0M379.2 85.4h0M366.4 46.0h0M426.1 78.3h0M376.5 56.8h0M376.1 69.5h0M390.8 75.2h0M361.0 53.9h0M371.6 77.5h0M381.1 30.6h0M438.6 70.9h0M437.6 29.2h0M377.8 79.2h0M441.4 51.6h0M385.1 80.9h0M399.5 83.2h0M416.6 58.8h0M396.5 50.4h0M468.7 82.1h0M394.9 42.2h0M345.9 74.4h0M431.0 59.3h0M372.6 55.3h0M376.3 51.8h0M420.6 35.2h0M414.4 52.3h0M413.8 68.3h0M419.9 78.0h0M444.1 88.9h0M385.0 83.5h0M418.5 52.6h0M361.3 67.0h0M374.6 79.8h0M422.5 70.0h0M399.9 36.1h0M341.3 66.8h0M398.9 70.9h0M380.4 39.5h0M358.8 53.9h0M401.4 60.7h0M372.8 71.3h0M333.2 86.6h0M348.8 80.4h0M446.8 69.2h0M335.1 65.0h0M394.2 55.6h0M407.3 52.5h0M408.3 57.8h0M344.9 57.8h0M375.7 77.8h0M391.4 96.4h0M413.8 69.9h0M364.7 76.9h0M347.0 72.0h0M420.7 65.9h0M424.2 81.6h0M399.2 79.4h0M365.9 63.0h0M400.4 59.5h0M390.3 72.1h0M415.1 53.3h0M344.1 65.0h0M390.6 78.0h0M381.2 60.8h0M393.9 72.4h0M387.8 42.5h0M372.6 39.1h0M400.1 37.1h0M338.4 74.8h0M384.8 28.7h0M401.3 59.5h0M396.3 65.5h0M423.2 65.2h0M345.8 51.7h0M335.3 60.6h0M394.7 64.3h0M402.1 40.6h0M458.7 73.1h0M407.6 78.3h0M356.9 48.6h0M414.0 50.0h0M357.8 43.7h0M336.1 78.8h0M475.3 43.9h0M397.7 53.6h0M410.9 32.8h0M405.8 81.7h0M448.2 57.9h0M396.3 65.9h0M428.0 87.2h0M351.7 73.0h0M339.3 43.1h0M435.1 69.0h0M436.7 73.1h0M404.0 47.3h0M394.3 45.4h0M392.3 45.4h0M363.2 74.2h0M438.9 62.4h0M409.0 44.7h0M403.8 72.1h0M399.4 73.6h0M422.2 48.0h0M403.8 36.1h0M411.9 80.1h0M346.9 103.5h0M403.9 84.9h0M461.0 77.8h0M369.0 63.7h0M382.2 51.4h0M416.9 63.8h0M419.1 72.8h0M407.8 58.9h0M331.6 77.0h0M403.7 62.2h0M346.4 71.8h0M405.2 48.2h0M376.5 75.0h0M414.1 77.6h0M493.6 68.5h0M413.0 88.1h0M411.2 73.3h0M356.1 73.4h0M364.7 47.1h0M350.4 68.3h0M368.5 74.2h0M349.5 83.2h0M364.2 80.5h0M379.5 62.5h0M352.6 64.9h0M338.4 43.0h0M340.3 71.6h0M402.0 44.2h0M388.6 57.3h0M421.5 61.5h0M422.1 94.0h0M375.0 82.3h0M409.4 49.4h0M337.6 38.8h0M464.2 58.1h0M427.2 49.1h0M379.3 68.0h0M347.1 67.4h0M399.5 72.2h0M323.0 45.6h0M360.1 55.9h0M412.1 65.2h0M389.2 66.7h0M369.9 52.4h0M369.8 99.3h0M415.1 95.4h0M409.2 86.4h0M383.9 88.6h0M393.3 93.1h0M390.4 77.8h0M381.5 105.4h0M399.5 100.0h0M364.9 93.7h0M381.0 109.0h0M388.1 104.2h0M381.0 106.6h0M379.6 110.7h0M391.1 100.3h0M405.4 103.4h0M407.3 83.8h0M386.8 90.4h0M356.7 97.8h0M357.7 101.8h0M391.1 107.1h0M382.6 86.9h0M401.9 103.3h0M402.8 101.6h0M401.0 91.0h0M380.2 96.2h0M403.5 82.8h0M382.1 108.3h0M407.8 90.4h0M393.4 101.8h0M380.3 84.8h0M397.7 97.0h0M375.8 87.3h0M373.5 102.0h0M366.3 108.7h0M390.2 106.0h0M385.9 101.6h0M385.5 105.3h0M380.9 85.9h0M406.7 84.7h0M380.7 94.0h0M376.5 105.4h0M404.0 97.4h0M406.5 102.3h0M391.3 83.7h0M362.2 93.6h0" stroke="#8e1535" stroke-width="2.20" stroke-linecap="round" fill="none"/>
<path d="M307.0 14.2V143.6H497.9" stroke="#1a1a1a" stroke-width="1.4" fill="none"/>
<text x="322.6" y="157.4" font-size="8.80" fill="#333" text-anchor="middle" font-weight="normal">−20</text>
<text x="362.6" y="157.4" font-size="8.80" fill="#333" text-anchor="middle" font-weight="normal">−10</text>
<text x="402.6" y="157.4" font-size="8.80" fill="#333" text-anchor="middle" font-weight="normal">0</text>
<text x="442.6" y="157.4" font-size="8.80" fill="#333" text-anchor="middle" font-weight="normal">10</text>
<text x="482.6" y="157.4" font-size="8.80" fill="#333" text-anchor="middle" font-weight="normal">20</text>
<text x="300.4" y="123.9" font-size="8.80" fill="#333" text-anchor="end" font-weight="normal">−20</text>
<text x="300.4" y="99.0" font-size="8.80" fill="#333" text-anchor="end" font-weight="normal">−10</text>
<text x="300.4" y="74.0" font-size="8.80" fill="#333" text-anchor="end" font-weight="normal">0</text>
<text x="300.4" y="49.1" font-size="8.80" fill="#333" text-anchor="end" font-weight="normal">10</text>
<text x="300.4" y="24.1" font-size="8.80" fill="#333" text-anchor="end" font-weight="normal">20</text>
<path d="M322.6 143.6v3.2M362.6 143.6v3.2M402.6 143.6v3.2M442.6 143.6v3.2M482.6 143.6v3.2M307.0 121.3h-3.2M307.0 96.4h-3.2M307.0 71.4h-3.2M307.0 46.5h-3.2M307.0 21.5h-3.2" stroke="#1a1a1a" stroke-width="1.2" fill="none"/>
<text transform="translate(402.4 170.6) scale(0.62 1)" font-size="10.4" fill="#333" stroke="#333" stroke-width="0.18" text-anchor="middle">PC1</text>
<text transform="translate(281.1 78.9) rotate(-90) scale(0.64 1)" font-size="10.4" fill="#333" stroke="#333" stroke-width="0.18" text-anchor="middle">PC2</text>
<text x="276.8" y="15.8" font-size="12.00" fill="#000" text-anchor="start" font-weight="bold" stroke="#000" stroke-width="0.45">B</text>
<text x="308.8" y="140.2" font-size="7.70" fill="#8f3656" text-anchor="start" font-weight="normal">JAK HOM</text>
<path d="M114.1 268.8h0M142.2 265.3h0M133.9 289.9h0M127.9 237.0h0M119.1 237.9h0M165.0 282.4h0M169.0 257.0h0M137.0 269.7h0M140.5 284.0h0M77.1 255.5h0M114.4 238.1h0M108.6 227.9h0M129.8 246.9h0M81.0 248.4h0M73.3 258.9h0M77.1 267.1h0M169.4 257.0h0M139.6 278.0h0M116.5 261.1h0M160.8 257.1h0M141.7 226.5h0M145.1 246.7h0M105.5 266.3h0M172.4 249.4h0M168.8 248.4h0M82.4 256.4h0M111.0 260.3h0M156.4 265.0h0M79.3 278.2h0M74.9 264.4h0M77.1 251.7h0M128.2 221.4h0M195.2 248.6h0M147.5 228.1h0M104.0 288.2h0M143.0 234.8h0M98.9 233.0h0M149.5 256.9h0M157.9 281.4h0M164.0 230.6h0M122.3 226.4h0M151.5 279.0h0M97.8 258.6h0M152.6 281.8h0M120.7 264.2h0M121.7 297.3h0M162.9 239.8h0M97.3 264.8h0M87.1 255.5h0M146.7 278.9h0M110.0 238.1h0M97.0 271.1h0M182.5 243.8h0M107.0 245.0h0M119.8 242.1h0M170.4 233.1h0M152.3 288.0h0M121.4 248.0h0M186.1 264.6h0M84.5 274.7h0M90.8 273.6h0M107.5 269.8h0M123.8 268.9h0M153.7 225.2h0M114.2 250.9h0M128.3 238.7h0M92.5 237.8h0M155.5 247.0h0M179.3 265.7h0M139.0 241.3h0M98.2 286.1h0M119.1 238.3h0M161.1 280.3h0M128.9 256.4h0M168.0 239.2h0M136.6 256.5h0M158.9 267.3h0M156.5 266.4h0M80.6 275.7h0M144.6 236.0h0M129.8 249.8h0M182.1 269.9h0M76.4 265.8h0M147.4 228.3h0M144.7 264.3h0M106.7 276.7h0M102.7 264.9h0M119.2 254.4h0M114.5 255.1h0M147.2 228.9h0M148.4 251.5h0M158.8 268.2h0M75.3 246.1h0M94.3 261.7h0M115.7 236.5h0M140.0 283.4h0M162.7 261.8h0M104.4 239.6h0M162.0 251.0h0M157.0 245.9h0M176.1 265.5h0M104.6 280.6h0M95.1 256.1h0M86.3 260.7h0M173.4 273.0h0M116.1 251.6h0M106.4 268.4h0M118.7 267.4h0M82.8 228.7h0M65.4 260.0h0M131.5 274.8h0M176.5 277.5h0M141.1 250.5h0M166.6 260.2h0M181.6 251.3h0M134.7 292.8h0M142.3 263.8h0M150.1 243.4h0M91.3 245.6h0M134.9 269.3h0M155.0 247.1h0M102.1 275.1h0M147.0 285.8h0M73.1 260.3h0M127.1 287.3h0M137.6 221.3h0M140.8 229.1h0M92.0 227.3h0M138.2 233.7h0M98.5 230.1h0M162.9 258.0h0M99.2 260.6h0M101.1 234.0h0M129.6 246.5h0M169.6 268.3h0M79.0 250.3h0M164.3 258.3h0M83.7 261.1h0M98.1 261.7h0M156.8 276.7h0M131.3 270.0h0M68.6 271.0h0M89.9 244.0h0M167.2 276.3h0M103.9 242.7h0M177.4 270.1h0M175.5 250.3h0M86.9 246.2h0M75.3 266.3h0M175.1 263.6h0M122.1 241.0h0M144.3 284.5h0M101.9 285.1h0M118.9 274.7h0M93.0 277.9h0M161.1 250.3h0M102.4 236.4h0M84.2 236.0h0M127.0 250.4h0M175.7 251.4h0M125.5 254.6h0M165.4 279.7h0M148.1 276.6h0M156.3 249.2h0M88.1 272.0h0M91.7 254.1h0M83.7 271.3h0M117.1 269.9h0M109.8 227.3h0M172.3 259.0h0M72.6 246.4h0M118.0 262.6h0M118.8 271.8h0M144.9 232.1h0M170.8 242.8h0M113.4 258.5h0M131.7 283.6h0M140.9 267.2h0M128.2 269.3h0M163.6 232.6h0M163.7 262.2h0M143.4 278.6h0M175.8 281.4h0M81.2 259.6h0M170.7 271.7h0M180.6 249.1h0M168.6 253.1h0M167.5 253.7h0M133.8 229.2h0M128.5 226.0h0M140.7 230.7h0M89.9 261.9h0M184.7 243.2h0M97.8 266.1h0M155.1 230.8h0M123.2 281.2h0M174.5 254.1h0M119.4 228.3h0M163.1 265.3h0M101.5 261.7h0M152.0 288.2h0M97.5 271.7h0M93.2 277.0h0M148.2 224.5h0M92.6 270.2h0M175.2 245.4h0M124.7 258.7h0M160.4 266.5h0M169.3 283.0h0M163.2 250.1h0M112.4 230.6h0M107.6 229.8h0M169.5 240.9h0M101.0 276.1h0M137.2 280.4h0M120.3 243.3h0M146.3 272.9h0M145.1 274.2h0M160.6 236.1h0M139.0 283.1h0M149.8 267.9h0M140.1 228.2h0M108.3 273.8h0M95.7 274.9h0M91.1 275.8h0M173.5 236.8h0M114.7 275.4h0M115.6 278.7h0M157.4 290.1h0M148.5 280.9h0M102.1 230.2h0M121.4 269.7h0M156.0 281.1h0M157.5 265.4h0M149.9 232.4h0M154.7 254.8h0M111.2 271.4h0M138.9 227.1h0M80.6 269.1h0M161.2 261.4h0M90.7 234.4h0M123.9 232.2h0M98.1 252.9h0M118.2 277.1h0M160.7 244.2h0M102.0 245.2h0M164.2 235.1h0M103.5 284.1h0M125.4 265.1h0M81.3 234.9h0M89.3 237.1h0M91.2 261.7h0M124.1 255.1h0M124.0 236.0h0M110.1 236.0h0M78.9 247.3h0M152.0 245.5h0M128.4 285.0h0M107.3 258.9h0M118.5 233.8h0M160.4 243.1h0M131.8 281.5h0M146.8 239.1h0M155.4 232.9h0M160.8 248.1h0M117.0 271.9h0M101.3 240.4h0M120.0 267.3h0M80.4 276.5h0M133.7 253.3h0M216.3 240.8h0M170.2 270.4h0M90.1 250.1h0M98.5 259.0h0M165.2 272.0h0M100.3 227.9h0M105.0 258.2h0M161.0 259.7h0M160.2 241.8h0M116.2 238.2h0M89.8 230.4h0M74.4 250.1h0M104.7 269.7h0M156.2 246.3h0M107.1 244.8h0M146.6 227.6h0M195.9 248.2h0M171.2 234.7h0M88.6 225.1h0M160.4 253.6h0M170.7 288.4h0M103.0 281.9h0M95.6 287.4h0M125.6 223.5h0M72.6 274.9h0M181.8 231.1h0M44.0 244.7h0M90.2 220.9h0M119.9 235.9h0M121.4 259.2h0M135.4 261.3h0M139.1 255.3h0M121.9 253.4h0M169.9 268.2h0M53.4 257.7h0M129.5 223.1h0M104.1 292.9h0M134.2 251.6h0M137.3 276.2h0M97.1 253.1h0M106.7 239.4h0M157.7 258.3h0M141.9 240.8h0M105.3 290.6h0M202.0 233.7h0M211.6 269.8h0M77.5 243.9h0M140.2 253.2h0M157.4 273.0h0M137.4 252.4h0M122.1 224.3h0M110.3 251.0h0M121.9 251.6h0M109.9 286.8h0M156.0 226.9h0M115.3 219.0h0M113.8 256.5h0M86.8 261.7h0M127.7 291.2h0M97.7 238.4h0M166.5 241.9h0M142.5 230.4h0M147.4 245.6h0M142.2 277.8h0M131.6 228.9h0M125.0 283.1h0M118.6 261.5h0M156.5 251.2h0M91.0 238.4h0M177.2 248.3h0M130.7 248.9h0M102.9 273.1h0M112.1 284.2h0M105.4 255.8h0M135.2 272.0h0M104.0 284.6h0M170.1 283.7h0M101.7 267.4h0M103.5 285.5h0M128.1 253.2h0M167.2 248.5h0M152.5 214.7h0M102.4 271.4h0M192.7 237.8h0M140.8 261.6h0M129.6 264.0h0M167.0 221.0h0M216.7 264.2h0M175.6 281.4h0M134.5 284.8h0M142.1 250.0h0M151.4 250.6h0M107.7 286.0h0M91.9 277.8h0M131.4 245.8h0M95.8 244.9h0M127.3 270.6h0M132.9 243.9h0M212.7 245.0h0M99.2 294.6h0M125.2 263.6h0M123.7 248.3h0M145.0 269.1h0M166.7 302.1h0M112.1 263.0h0M100.3 241.2h0M71.2 223.7h0M131.1 280.8h0M93.4 236.9h0M116.2 231.0h0M130.6 236.3h0M147.4 253.9h0M108.4 281.5h0M120.6 243.9h0M64.9 272.1h0M51.7 242.1h0M117.5 218.7h0M137.3 276.3h0M116.2 226.1h0M100.8 223.5h0M127.3 224.3h0M129.3 257.5h0M126.6 282.4h0M62.7 260.8h0M124.3 303.5h0M99.1 292.9h0M110.0 255.1h0M137.6 278.0h0M152.3 260.5h0M161.4 259.4h0M111.9 216.4h0M162.3 229.7h0M171.2 258.0h0M169.9 231.6h0M178.9 273.5h0M124.3 264.2h0M123.3 237.9h0M158.8 283.2h0M80.9 262.9h0M136.9 284.9h0M110.6 254.6h0M116.4 222.6h0M67.6 272.9h0M97.8 252.3h0M128.8 276.0h0M161.1 281.3h0M164.7 283.1h0M126.6 226.4h0M122.8 207.3h0M100.0 246.9h0M143.8 272.2h0M120.7 242.2h0M151.0 264.1h0M191.8 240.2h0M128.3 250.9h0M76.3 251.2h0M98.9 244.3h0M77.7 269.3h0M86.9 265.6h0M175.9 293.3h0M137.6 266.4h0M75.5 287.0h0M152.7 260.1h0M174.3 277.2h0M116.7 254.9h0M105.5 247.5h0M117.5 287.0h0M139.6 274.2h0M152.3 276.9h0M171.5 241.3h0M172.6 221.1h0M171.6 239.1h0M177.9 264.4h0M153.0 226.2h0M124.8 225.5h0M140.7 270.9h0M115.9 315.7h0M161.9 201.2h0M116.7 223.8h0M96.6 278.8h0M180.8 253.5h0M153.2 261.6h0M137.3 254.9h0M162.4 288.3h0M167.3 271.4h0M141.6 247.2h0M105.5 231.8h0M113.3 255.4h0M94.5 207.5h0M136.6 272.1h0M171.9 251.6h0M112.3 297.5h0M89.2 283.5h0M201.6 229.1h0M113.5 276.9h0M85.7 245.9h0M137.9 258.4h0M59.5 236.7h0M154.9 250.7h0M114.3 267.8h0M78.5 254.8h0M51.8 240.4h0M111.8 264.0h0M91.6 259.9h0M90.5 219.8h0M155.3 234.8h0M139.1 221.1h0M120.0 250.2h0M77.0 258.7h0M138.6 266.6h0M146.0 240.0h0M143.7 251.5h0M89.5 225.8h0M180.1 259.1h0M98.4 249.6h0M61.5 251.7h0M134.5 253.9h0M76.8 265.8h0M103.7 259.5h0M143.1 223.2h0M86.1 248.0h0M107.8 238.5h0M136.6 241.3h0M157.4 225.5h0M65.0 241.2h0M95.0 215.9h0M114.1 257.7h0M173.6 222.8h0M154.7 241.6h0M184.0 244.7h0M94.1 221.5h0M103.0 242.9h0M142.3 218.6h0M136.0 220.7h0M79.7 225.9h0M137.8 268.9h0M163.3 231.2h0M144.1 259.8h0M169.7 239.1h0M68.3 252.9h0M96.1 220.8h0M127.5 231.9h0M136.6 225.3h0M108.8 227.9h0M136.8 255.9h0M142.0 243.2h0M124.0 259.0h0M111.3 244.2h0M158.7 242.8h0M135.0 251.4h0M114.6 258.3h0M100.7 261.2h0M121.4 237.7h0M154.7 251.3h0M127.8 223.4h0M100.4 233.5h0M155.8 229.6h0M76.7 262.1h0M175.7 227.7h0M146.3 217.5h0M122.0 250.2h0M66.1 243.3h0M97.9 259.4h0M123.7 254.4h0M87.9 255.4h0M133.0 214.0h0M95.9 263.9h0M154.5 237.0h0M114.0 237.3h0M58.1 238.3h0M174.7 225.2h0M160.5 231.7h0M105.6 255.6h0M119.0 260.1h0M84.5 227.4h0M80.3 229.5h0M133.8 227.5h0M84.9 242.0h0M105.2 250.5h0M136.9 243.2h0M138.2 238.2h0M170.9 251.5h0M125.9 245.2h0M88.7 222.4h0M109.5 266.3h0M132.4 258.5h0M96.9 252.0h0M118.4 228.7h0M90.5 253.9h0M170.7 254.2h0M164.6 226.7h0M77.3 238.7h0M186.3 241.3h0M143.2 265.7h0M118.4 262.2h0M173.2 242.0h0M124.8 253.3h0M99.4 260.7h0M169.4 231.1h0M66.9 244.6h0M111.1 252.3h0M84.3 221.2h0M95.5 245.2h0M167.9 250.6h0M101.1 246.9h0M92.8 240.9h0M162.6 235.5h0M130.4 237.2h0M142.0 252.3h0M119.9 254.0h0M152.3 261.2h0M102.3 241.7h0M90.7 248.9h0M62.6 245.1h0M122.6 261.2h0M97.4 218.9h0M57.4 237.0h0M111.6 249.1h0M101.5 260.7h0M126.5 219.9h0M172.0 230.7h0M171.3 235.8h0M132.4 237.0h0M144.7 252.3h0M96.4 265.4h0M119.5 265.1h0M77.5 235.8h0M136.5 247.7h0M82.1 240.0h0M148.3 246.8h0M64.2 239.4h0M99.0 256.1h0M84.6 226.7h0M122.8 227.8h0M87.5 258.1h0M103.1 247.2h0M81.0 224.2h0M115.9 221.5h0M117.7 256.4h0M98.1 215.6h0M67.4 251.7h0M113.7 222.4h0M125.6 267.3h0M85.3 229.9h0M54.4 236.0h0M152.8 251.7h0M114.3 266.0h0M101.7 226.9h0M160.6 258.9h0M111.6 237.6h0M111.2 250.2h0M125.8 255.8h0M96.3 234.7h0M106.8 258.2h0M116.2 211.5h0M173.0 251.6h0M172.0 210.1h0M112.9 259.8h0M175.7 232.4h0M120.1 261.5h0M134.4 263.8h0M151.3 239.6h0M131.4 231.3h0M202.7 262.7h0M129.8 223.1h0M81.4 255.0h0M165.4 240.1h0M107.8 236.1h0M111.4 232.6h0M155.2 216.1h0M149.1 233.1h0M148.4 249.0h0M154.4 258.7h0M178.4 269.5h0M120.1 264.1h0M153.1 233.4h0M96.6 247.7h0M109.7 260.4h0M157.1 250.7h0M134.7 217.0h0M76.8 247.5h0M133.7 251.6h0M115.5 220.4h0M94.1 234.7h0M136.2 241.5h0M108.0 252.0h0M68.9 267.2h0M84.3 261.0h0M181.0 249.9h0M70.7 245.7h0M129.1 236.4h0M142.1 233.3h0M143.1 238.6h0M80.5 238.6h0M110.8 258.4h0M126.3 276.9h0M148.5 250.6h0M99.9 257.6h0M82.5 252.7h0M155.3 246.6h0M158.7 262.2h0M134.0 260.1h0M101.2 243.8h0M135.3 240.3h0M125.3 252.8h0M149.7 234.1h0M79.7 245.7h0M125.5 258.6h0M116.3 241.5h0M128.8 253.1h0M122.8 223.4h0M107.8 220.0h0M134.9 218.0h0M74.0 255.4h0M119.8 209.7h0M136.1 240.3h0M131.1 246.3h0M157.7 245.9h0M81.3 232.5h0M71.0 241.4h0M129.6 245.0h0M136.9 221.5h0M192.8 253.8h0M142.3 259.0h0M92.3 229.4h0M148.7 230.8h0M93.2 224.5h0M71.7 259.5h0M209.2 224.7h0M132.5 234.4h0M145.6 213.8h0M140.5 262.3h0M182.4 238.7h0M131.1 246.7h0M162.5 267.8h0M87.1 253.7h0M74.9 224.0h0M169.5 249.7h0M171.1 253.8h0M138.7 228.2h0M129.2 226.2h0M127.2 226.3h0M98.5 254.9h0M173.3 243.1h0M143.7 225.6h0M138.6 252.8h0M134.2 254.3h0M156.8 228.8h0M138.6 217.0h0M146.6 260.8h0M82.4 284.1h0M138.7 265.6h0M195.0 258.5h0M104.2 244.4h0M117.3 232.3h0M151.5 244.5h0M153.7 253.5h0M142.6 239.7h0M67.3 257.7h0M138.4 242.9h0M81.9 252.5h0M140.0 229.0h0M111.7 255.6h0M148.8 258.3h0M227.3 249.2h0M147.7 268.7h0M145.9 254.0h0M91.5 254.1h0M100.0 227.9h0M85.9 249.1h0M103.7 254.9h0M84.9 263.8h0M99.5 261.1h0M114.6 243.2h0M88.0 245.6h0M74.0 223.9h0M75.9 252.3h0M136.8 225.1h0M123.6 238.0h0M156.0 242.3h0M156.7 274.6h0M110.2 263.0h0M144.1 230.2h0M73.2 219.6h0M198.3 238.9h0M161.7 229.9h0M114.4 248.8h0M82.5 248.2h0M134.4 252.9h0M58.8 226.5h0M95.4 236.7h0M146.7 246.0h0M124.1 247.5h0M105.1 233.2h0M105.0 279.9h0M149.8 276.0h0M143.9 267.0h0M119.0 269.2h0M128.3 273.7h0M125.3 258.5h0M116.6 285.9h0M134.3 280.5h0M100.2 274.3h0M116.0 289.5h0M123.1 284.7h0M116.1 287.1h0M114.7 291.2h0M126.0 280.9h0M140.1 283.9h0M142.1 264.4h0M121.8 271.0h0M92.0 278.4h0M93.1 282.4h0M126.1 287.6h0M117.7 267.5h0M136.7 283.8h0M137.6 282.1h0M135.9 271.6h0M115.3 276.7h0M138.3 263.4h0M117.1 288.8h0M142.5 271.0h0M128.3 282.3h0M115.4 265.4h0M132.6 277.6h0M110.9 268.0h0M108.7 282.5h0M101.5 289.1h0M125.2 286.5h0M120.9 282.2h0M120.5 285.8h0M115.9 266.5h0M141.5 265.3h0M115.7 274.5h0M111.6 285.9h0M138.8 277.9h0M141.2 282.9h0M126.3 264.3h0M97.5 274.2h0M120.3 259.8h0M130.8 272.0h0M118.8 281.1h0M101.0 278.9h0M103.7 272.5h0M124.5 277.8h0M140.0 286.8h0M121.0 290.4h0M112.9 272.6h0M156.3 279.0h0M138.9 270.1h0M143.6 288.1h0M105.9 272.3h0M119.9 274.1h0M154.6 296.5h0M109.8 283.4h0M157.7 276.0h0M133.1 274.8h0M146.2 271.2h0M122.9 280.4h0M129.1 293.3h0M158.4 265.4h0M111.7 280.6h0M160.3 273.9h0M130.3 271.3h0M139.2 265.2h0M118.1 263.9h0M107.7 261.7h0M116.5 257.0h0M110.7 276.2h0M153.6 296.4h0M105.5 280.2h0M97.6 282.1h0M155.1 270.5h0M150.1 275.7h0M152.2 281.9h0M112.3 257.9h0M143.5 278.6h0M127.4 276.9h0M109.0 281.7h0M118.1 286.5h0M138.6 272.0h0M156.5 271.8h0M120.7 260.5h0M104.3 262.7h0M134.3 279.2h0M107.5 294.5h0M136.9 254.0h0M135.0 270.9h0M96.7 257.9h0M170.4 281.3h0M155.2 304.9h0M149.6 256.0h0M101.4 275.6h0M119.8 275.1h0M116.5 276.1h0M119.7 268.1h0M102.9 269.6h0M139.8 298.6h0M134.9 262.1h0M138.2 284.1h0M117.5 283.3h0M160.1 253.3h0M133.9 264.3h0M114.3 302.2h0M128.1 274.7h0M152.4 269.6h0M122.4 278.0h0M123.6 293.9h0M113.8 287.7h0M145.3 294.0h0M118.9 274.0h0M115.2 265.7h0M111.9 262.9h0M142.7 286.9h0M116.9 273.7h0M89.8 269.3h0M144.3 283.9h0M178.4 225.4h0M148.5 229.0h0M167.7 231.3h0M166.8 259.4h0M175.9 229.7h0M146.3 240.5h0M154.6 247.7h0M158.0 224.0h0M200.3 241.6h0M155.0 223.2h0M157.4 224.2h0M155.6 253.4h0M150.7 234.9h0M170.9 245.3h0M169.7 231.8h0M192.3 231.5h0M165.3 241.5h0M149.5 227.6h0M174.0 248.3h0M175.6 227.3h0M170.9 212.5h0M176.8 249.6h0M155.6 256.6h0M172.4 241.0h0M183.8 231.3h0M190.1 232.8h0M149.4 226.1h0M194.0 221.1h0M159.6 231.1h0M148.7 237.5h0M165.6 250.0h0M140.1 249.0h0M169.1 243.0h0M174.7 233.9h0M165.0 234.5h0M179.6 237.2h0M162.8 239.1h0M169.1 229.4h0M140.5 234.6h0M169.8 233.5h0M152.2 233.4h0M160.1 244.0h0M167.1 250.0h0M172.8 231.1h0M136.5 232.1h0M71.4 236.6h0M147.8 247.7h0M111.2 296.8h0M134.2 227.8h0M111.5 265.7h0M171.4 220.0h0M80.5 249.4h0M170.9 282.7h0M103.0 233.3h0M115.7 248.4h0M158.8 245.2h0M181.8 256.9h0M152.6 272.4h0M91.2 227.8h0M109.2 282.5h0M77.2 243.3h0M170.9 292.0h0M154.2 224.3h0M91.9 259.5h0M79.5 266.7h0M147.0 286.4h0M190.6 254.8h0M112.9 235.7h0M86.8 256.1h0M73.4 275.9h0M160.6 243.6h0M61.7 264.4h0M129.1 282.6h0M132.8 279.9h0M146.0 242.5h0M87.4 248.7h0M112.4 231.3h0M84.1 231.5h0M82.4 226.8h0M168.4 268.7h0M212.2 255.5h0M181.3 269.3h0M187.1 257.6h0M159.3 251.6h0M161.0 216.0h0M125.1 227.5h0M179.7 284.3h0M148.7 263.6h0M195.9 270.9h0M105.8 242.2h0M196.5 251.1h0M89.3 288.0h0M163.1 268.6h0M188.5 238.4h0M169.8 290.5h0M166.2 257.6h0M141.3 282.0h0M107.0 255.4h0M156.5 264.4h0M176.6 278.5h0M185.2 248.6h0M72.6 255.6h0M149.2 214.6h0M65.7 246.9h0M169.7 249.7h0M105.2 231.8h0M79.1 236.3h0M205.0 261.5h0M64.4 254.5h0M196.9 249.3h0M77.2 243.0h0M189.2 271.2h0M192.9 254.2h0M127.4 284.4h0M133.1 289.8h0M108.7 245.9h0M134.2 259.6h0M163.8 294.5h0M135.6 277.3h0M178.5 257.9h0M186.7 223.7h0M150.1 235.0h0M149.4 240.5h0M132.5 298.2h0M150.2 260.5h0M86.9 247.7h0M152.8 249.6h0M144.1 249.1h0M97.8 263.6h0M93.0 225.4h0M97.5 260.5h0M147.2 280.2h0M100.8 270.7h0M69.0 231.7h0M93.2 215.8h0M129.4 279.4h0M149.0 251.9h0M183.0 266.1h0M170.0 246.9h0M186.5 251.2h0M160.6 215.0h0M114.8 245.2h0M183.4 258.6h0M113.9 233.2h0M108.4 264.4h0M201.4 266.5h0M144.6 276.7h0M167.7 269.3h0M173.2 257.4h0M75.9 282.0h0M131.0 305.4h0M83.9 234.8h0M140.3 275.9h0M105.9 270.4h0M194.0 266.7h0M157.5 280.3h0M99.8 282.3h0M134.2 254.8h0M136.8 241.9h0M158.7 241.7h0M146.4 292.0h0M51.2 258.9h0M120.4 284.8h0M157.1 241.1h0M148.2 263.5h0M185.3 257.5h0M79.2 260.4h0M157.7 271.4h0M106.7 292.3h0M143.4 245.4h0" stroke="#c3c5cd" stroke-width="2.10" stroke-linecap="round" fill="none"/>
<path d="M170.6 262.7l1.4 2.5h-2.8zM196.4 256.0l1.4 2.5h-2.8zM192.7 227.7l1.4 2.5h-2.8zM194.9 236.5l1.4 2.5h-2.8zM191.9 263.3l1.4 2.5h-2.8zM170.7 223.2l1.4 2.5h-2.8zM215.2 237.6l1.4 2.5h-2.8zM202.0 232.3l1.4 2.5h-2.8zM160.3 253.1l1.4 2.5h-2.8zM176.2 244.9l1.4 2.5h-2.8zM184.1 270.5l1.4 2.5h-2.8zM189.7 269.2l1.4 2.5h-2.8zM197.4 235.7l1.4 2.5h-2.8zM203.9 251.1l1.4 2.5h-2.8zM178.3 248.3l1.4 2.5h-2.8zM205.6 254.1l1.4 2.5h-2.8zM176.6 266.1l1.4 2.5h-2.8zM162.2 224.7l1.4 2.5h-2.8zM165.2 217.1l1.4 2.5h-2.8zM208.8 260.8l1.4 2.5h-2.8zM164.8 236.5l1.4 2.5h-2.8zM162.4 244.7l1.4 2.5h-2.8zM163.4 255.2l1.4 2.5h-2.8zM182.9 254.8l1.4 2.5h-2.8zM159.3 252.7l1.4 2.5h-2.8zM175.0 233.7l1.4 2.5h-2.8zM201.1 235.9l1.4 2.5h-2.8zM178.0 224.1l1.4 2.5h-2.8zM171.5 234.2l1.4 2.5h-2.8zM169.9 211.8l1.4 2.5h-2.8zM208.0 219.6l1.4 2.5h-2.8zM207.2 243.7l1.4 2.5h-2.8zM136.7 250.2l1.4 2.5h-2.8zM160.4 227.6l1.4 2.5h-2.8zM214.0 234.0l1.4 2.5h-2.8zM171.6 244.6l1.4 2.5h-2.8zM152.0 268.6l1.4 2.5h-2.8zM179.0 274.8l1.4 2.5h-2.8zM176.7 236.9l1.4 2.5h-2.8zM177.0 229.6l1.4 2.5h-2.8zM169.4 229.0l1.4 2.5h-2.8zM172.8 265.3l1.4 2.5h-2.8zM169.9 225.0l1.4 2.5h-2.8zM185.5 252.2l1.4 2.5h-2.8zM162.8 236.2l1.4 2.5h-2.8zM173.2 235.7l1.4 2.5h-2.8zM176.0 256.9l1.4 2.5h-2.8zM204.7 253.2l1.4 2.5h-2.8zM186.2 278.9l1.4 2.5h-2.8zM176.7 258.9l1.4 2.5h-2.8zM155.7 229.8l1.4 2.5h-2.8zM147.2 264.4l1.4 2.5h-2.8zM155.4 255.3l1.4 2.5h-2.8zM136.9 247.9l1.4 2.5h-2.8zM138.2 235.1l1.4 2.5h-2.8zM135.1 259.3l1.4 2.5h-2.8zM166.3 244.0l1.4 2.5h-2.8zM153.1 237.1l1.4 2.5h-2.8zM157.9 239.8l1.4 2.5h-2.8zM157.6 239.3l1.4 2.5h-2.8zM149.1 243.5l1.4 2.5h-2.8zM146.8 255.0l1.4 2.5h-2.8z" fill="#66a83c"/>
<path d="M43.2 194.8V323.4H232.6" stroke="#1a1a1a" stroke-width="1.4" fill="none"/>
<text x="58.4" y="337.2" font-size="8.80" fill="#333" text-anchor="middle" font-weight="normal">−20</text>
<text x="97.9" y="337.2" font-size="8.80" fill="#333" text-anchor="middle" font-weight="normal">−10</text>
<text x="137.4" y="337.2" font-size="8.80" fill="#333" text-anchor="middle" font-weight="normal">0</text>
<text x="176.9" y="337.2" font-size="8.80" fill="#333" text-anchor="middle" font-weight="normal">10</text>
<text x="216.4" y="337.2" font-size="8.80" fill="#333" text-anchor="middle" font-weight="normal">20</text>
<text x="36.6" y="304.3" font-size="8.80" fill="#333" text-anchor="end" font-weight="normal">−20</text>
<text x="36.6" y="279.5" font-size="8.80" fill="#333" text-anchor="end" font-weight="normal">−10</text>
<text x="36.6" y="254.7" font-size="8.80" fill="#333" text-anchor="end" font-weight="normal">0</text>
<text x="36.6" y="229.9" font-size="8.80" fill="#333" text-anchor="end" font-weight="normal">10</text>
<text x="36.6" y="205.1" font-size="8.80" fill="#333" text-anchor="end" font-weight="normal">20</text>
<path d="M58.4 323.4v3.2M97.9 323.4v3.2M137.4 323.4v3.2M176.9 323.4v3.2M216.4 323.4v3.2M43.2 301.7h-3.2M43.2 276.9h-3.2M43.2 252.1h-3.2M43.2 227.3h-3.2M43.2 202.5h-3.2" stroke="#1a1a1a" stroke-width="1.2" fill="none"/>
<text transform="translate(137.9 350.4) scale(0.62 1)" font-size="10.4" fill="#333" stroke="#333" stroke-width="0.18" text-anchor="middle">PC1</text>
<text transform="translate(17.3 259.1) rotate(-90) scale(0.64 1)" font-size="10.4" fill="#333" stroke="#333" stroke-width="0.18" text-anchor="middle">PC2</text>
<text x="6.7" y="197.5" font-size="12.00" fill="#000" text-anchor="start" font-weight="bold" stroke="#000" stroke-width="0.45">C</text>
<text x="45.0" y="320.0" font-size="7.70" fill="#7fb455" text-anchor="start" font-weight="normal">TET HOM</text>
<path d="M377.8 268.4h0M406.0 264.9h0M397.7 289.5h0M391.7 236.6h0M382.8 237.5h0M428.9 282.0h0M432.8 256.6h0M400.8 269.3h0M404.3 283.6h0M340.9 255.1h0M378.1 237.7h0M372.4 227.5h0M393.6 246.5h0M344.7 248.0h0M337.0 258.5h0M340.8 266.7h0M433.2 256.6h0M403.4 277.6h0M380.2 260.7h0M424.6 256.7h0M405.5 226.1h0M409.0 246.3h0M369.3 265.9h0M436.2 249.0h0M432.7 248.0h0M346.2 256.0h0M374.8 259.9h0M420.2 264.6h0M343.0 277.8h0M338.6 264.0h0M340.8 251.3h0M392.0 221.0h0M459.1 248.2h0M411.3 227.7h0M367.8 287.8h0M406.8 234.4h0M362.6 232.6h0M413.3 256.5h0M421.7 281.0h0M427.8 230.2h0M386.1 226.0h0M415.3 278.6h0M361.5 258.2h0M416.4 281.4h0M384.4 263.8h0M385.4 296.9h0M426.7 239.4h0M361.0 264.4h0M350.8 255.1h0M410.6 278.5h0M373.7 237.7h0M360.7 270.7h0M446.4 243.4h0M370.8 244.6h0M383.6 241.7h0M434.2 232.7h0M416.1 287.6h0M385.2 247.6h0M450.0 264.2h0M348.2 274.3h0M354.5 273.2h0M371.3 269.4h0M387.5 268.5h0M417.5 224.8h0M378.0 250.5h0M392.0 238.3h0M356.3 237.4h0M419.3 246.6h0M443.2 265.3h0M402.8 240.9h0M361.9 285.7h0M382.9 237.9h0M424.9 279.9h0M392.7 256.0h0M431.9 238.8h0M400.4 256.1h0M422.8 266.9h0M420.4 266.0h0M344.3 275.3h0M408.4 235.6h0M393.6 249.4h0M446.0 269.5h0M340.1 265.4h0M411.2 227.9h0M408.5 263.9h0M370.5 276.3h0M366.4 264.5h0M383.0 254.0h0M378.3 254.7h0M411.0 228.5h0M412.2 251.1h0M422.7 267.8h0M339.0 245.7h0M358.1 261.3h0M379.5 236.1h0M403.8 283.0h0M426.5 261.4h0M368.2 239.2h0M425.8 250.6h0M420.8 245.5h0M440.0 265.1h0M368.3 280.2h0M358.8 255.7h0M350.1 260.3h0M437.3 272.6h0M379.9 251.2h0M370.1 268.0h0M382.5 267.0h0M346.5 228.3h0M329.1 259.6h0M395.3 274.4h0M440.4 277.1h0M404.9 250.1h0M430.4 259.8h0M445.5 250.9h0M398.5 292.4h0M406.1 263.4h0M413.9 243.0h0M355.1 245.2h0M398.7 268.9h0M418.9 246.7h0M365.8 274.7h0M410.8 285.4h0M336.8 259.9h0M390.8 286.9h0M401.4 220.9h0M404.6 228.7h0M355.7 226.9h0M402.0 233.3h0M362.2 229.7h0M426.7 257.6h0M362.9 260.2h0M364.8 233.6h0M393.3 246.1h0M433.5 267.9h0M342.8 249.9h0M428.2 257.9h0M347.5 260.7h0M361.8 261.3h0M420.6 276.3h0M395.1 269.6h0M332.3 270.6h0M353.7 243.6h0M431.0 275.9h0M367.6 242.3h0M441.2 269.7h0M439.4 249.9h0M350.7 245.8h0M339.0 265.9h0M439.0 263.2h0M385.9 240.6h0M408.1 284.1h0M365.7 284.7h0M382.7 274.3h0M356.8 277.5h0M424.9 249.9h0M366.2 236.0h0M347.9 235.6h0M390.8 250.0h0M439.6 251.0h0M389.3 254.2h0M429.2 279.3h0M411.9 276.2h0M420.1 248.8h0M351.8 271.6h0M355.5 253.7h0M347.4 270.9h0M380.8 269.5h0M373.5 226.9h0M436.2 258.6h0M336.4 246.0h0M381.8 262.2h0M382.6 271.4h0M408.7 231.7h0M434.6 242.4h0M377.1 258.1h0M395.5 283.2h0M404.7 266.8h0M392.0 268.9h0M427.5 232.2h0M427.5 261.8h0M407.2 278.2h0M439.6 281.0h0M344.9 259.2h0M434.5 271.3h0M444.4 248.7h0M432.4 252.7h0M431.3 253.3h0M397.6 228.8h0M392.3 225.6h0M404.5 230.3h0M353.7 261.5h0M448.6 242.8h0M361.6 265.7h0M418.9 230.4h0M387.0 280.8h0M438.4 253.7h0M383.1 227.9h0M427.0 264.9h0M365.3 261.3h0M415.9 287.8h0M361.3 271.3h0M357.0 276.6h0M412.0 224.1h0M356.3 269.8h0M439.1 245.0h0M388.5 258.3h0M424.2 266.1h0M433.1 282.6h0M427.0 249.7h0M376.2 230.2h0M371.4 229.4h0M433.4 240.5h0M364.7 275.7h0M401.0 280.0h0M384.1 242.9h0M410.1 272.5h0M409.0 273.8h0M424.5 235.7h0M402.8 282.7h0M413.6 267.5h0M403.9 227.8h0M372.1 273.4h0M359.4 274.5h0M354.8 275.4h0M437.4 236.4h0M378.5 275.0h0M379.4 278.3h0M421.2 289.7h0M412.3 280.5h0M365.9 229.8h0M385.2 269.3h0M419.9 280.7h0M421.3 265.0h0M413.7 232.0h0M418.6 254.4h0M375.0 271.0h0M402.8 226.7h0M344.3 268.7h0M425.1 261.0h0M354.4 234.0h0M387.7 231.8h0M361.9 252.5h0M382.0 276.7h0M424.5 243.8h0M365.8 244.8h0M428.0 234.7h0M367.3 283.7h0M389.2 264.7h0M345.0 234.5h0M353.1 236.7h0M354.9 261.3h0M387.9 254.7h0M387.7 235.6h0M373.9 235.6h0M342.7 246.9h0M415.8 245.1h0M392.2 284.6h0M371.0 258.5h0M382.3 233.4h0M424.2 242.7h0M395.6 281.1h0M410.6 238.7h0M419.2 232.5h0M424.7 247.7h0M380.8 271.5h0M365.1 240.0h0M383.8 266.9h0M344.2 276.1h0M397.5 252.9h0M480.2 240.4h0M434.0 270.0h0M353.8 249.7h0M362.2 258.6h0M429.0 271.6h0M364.0 227.5h0M368.7 257.8h0M424.8 259.3h0M424.1 241.4h0M380.0 237.8h0M353.5 230.0h0M338.1 249.7h0M368.4 269.3h0M420.0 245.9h0M370.9 244.4h0M410.4 227.2h0M459.8 247.8h0M435.0 234.3h0M352.3 224.7h0M424.2 253.2h0M434.5 288.0h0M366.7 281.5h0M359.4 287.0h0M389.4 223.1h0M336.3 274.5h0M445.6 230.7h0M307.7 244.3h0M353.9 220.5h0M383.7 235.5h0M385.2 258.8h0M399.2 260.9h0M403.0 254.9h0M385.7 253.0h0M433.8 267.8h0M317.1 257.3h0M393.3 222.7h0M367.9 292.5h0M398.0 251.2h0M401.1 275.8h0M360.8 252.7h0M370.5 239.0h0M421.5 257.9h0M405.7 240.4h0M369.1 290.2h0M465.9 233.3h0M475.5 269.4h0M341.2 243.5h0M404.0 252.8h0M421.2 272.6h0M401.2 252.0h0M385.9 223.9h0M374.0 250.6h0M385.7 251.2h0M373.7 286.4h0M419.8 226.5h0M379.1 218.6h0M377.6 256.1h0M350.5 261.3h0M391.5 290.8h0M361.5 238.0h0M430.4 241.5h0M406.3 230.0h0M411.3 245.2h0M406.0 277.4h0M395.4 228.5h0M388.8 282.7h0M382.3 261.1h0M420.3 250.8h0M354.7 238.0h0M441.0 247.9h0M394.5 248.5h0M366.6 272.7h0M375.9 283.8h0M369.2 255.4h0M399.0 271.6h0M367.7 284.2h0M433.9 283.3h0M365.5 267.0h0M367.3 285.1h0M391.9 252.8h0M431.0 248.1h0M416.3 214.3h0M366.2 271.0h0M456.6 237.4h0M404.6 261.2h0M393.4 263.6h0M430.9 220.6h0M480.6 263.8h0M439.4 281.0h0M398.3 284.4h0M405.9 249.6h0M415.3 250.2h0M371.5 285.6h0M355.6 277.4h0M395.2 245.4h0M359.6 244.5h0M391.1 270.2h0M396.7 243.5h0M476.6 244.6h0M363.0 294.2h0M389.0 263.2h0M387.4 247.9h0M408.9 268.7h0M430.5 301.7h0M375.8 262.6h0M364.1 240.8h0M334.9 223.3h0M394.9 280.4h0M357.1 236.5h0M380.0 230.6h0M394.4 235.9h0M411.2 253.5h0M372.2 281.1h0M384.4 243.5h0M328.6 271.7h0M315.4 241.7h0M381.3 218.3h0M401.1 275.9h0M380.0 225.7h0M364.5 223.1h0M391.1 223.9h0M393.1 257.1h0M390.4 282.0h0M326.5 260.4h0M388.0 303.1h0M362.9 292.5h0M373.8 254.7h0M401.4 277.6h0M416.1 260.1h0M425.2 259.0h0M375.6 216.0h0M426.2 229.3h0M435.1 257.6h0M433.7 231.2h0M442.8 273.1h0M388.1 263.8h0M387.1 237.5h0M422.7 282.8h0M344.6 262.5h0M400.7 284.5h0M374.4 254.2h0M380.2 222.2h0M331.3 272.5h0M361.6 251.9h0M392.6 275.6h0M424.9 280.9h0M428.5 282.7h0M390.4 226.0h0M386.6 206.9h0M363.7 246.5h0M407.6 271.8h0M384.5 241.8h0M414.9 263.7h0M455.6 239.8h0M392.1 250.5h0M340.0 250.8h0M362.6 243.9h0M341.4 268.9h0M350.7 265.2h0M439.8 292.9h0M401.4 266.0h0M339.2 286.6h0M416.6 259.7h0M438.2 276.8h0M380.5 254.5h0M369.2 247.1h0M381.3 286.6h0M403.4 273.8h0M416.1 276.5h0M435.4 240.9h0M436.4 220.7h0M435.5 238.7h0M441.8 264.0h0M416.8 225.8h0M388.6 225.1h0M404.5 270.5h0M379.7 315.3h0M425.7 200.8h0M380.5 223.4h0M360.3 278.4h0M444.7 253.1h0M417.0 261.2h0M401.1 254.5h0M426.3 287.9h0M431.1 271.0h0M405.4 246.8h0M369.2 231.4h0M377.0 255.0h0M358.3 207.1h0M400.4 271.7h0M435.7 251.2h0M376.0 297.1h0M352.9 283.1h0M465.5 228.7h0M377.2 276.5h0M349.4 245.5h0M401.8 258.0h0M323.2 236.3h0M418.7 250.3h0M378.1 267.4h0M342.2 254.4h0M315.5 240.0h0M375.5 263.6h0M355.3 259.5h0M354.2 219.4h0M419.2 234.4h0M402.9 220.7h0M383.8 249.8h0M340.7 258.3h0M402.4 266.2h0M409.8 239.6h0M407.5 251.1h0M353.3 225.4h0M444.0 258.7h0M362.2 249.2h0M325.2 251.3h0M398.3 253.5h0M340.5 265.4h0M367.5 259.1h0M406.9 222.8h0M349.9 247.6h0M371.5 238.1h0M400.4 240.9h0M421.2 225.1h0M328.7 240.8h0M358.8 215.5h0M377.9 257.3h0M437.5 222.4h0M418.5 241.2h0M447.8 244.3h0M357.8 221.1h0M366.8 242.5h0M406.1 218.2h0M399.8 220.3h0M343.4 225.5h0M401.6 268.5h0M427.1 230.8h0M407.9 259.4h0M433.5 238.7h0M332.0 252.5h0M359.9 220.4h0M391.3 231.5h0M400.4 224.9h0M372.6 227.5h0M400.6 255.5h0M405.8 242.8h0M387.8 258.6h0M375.1 243.8h0M422.5 242.4h0M398.8 251.0h0M378.4 257.9h0M364.5 260.8h0M385.1 237.3h0M418.5 250.9h0M391.6 223.0h0M364.1 233.1h0M419.6 229.2h0M340.4 261.7h0M439.6 227.3h0M410.1 217.1h0M385.8 249.8h0M329.8 242.9h0M361.7 259.0h0M387.5 254.0h0M351.6 255.0h0M396.8 213.6h0M359.7 263.5h0M418.3 236.6h0M377.7 236.9h0M321.8 237.9h0M438.5 224.8h0M424.4 231.3h0M369.3 255.2h0M382.8 259.7h0M348.2 227.0h0M344.0 229.1h0M397.6 227.1h0M348.6 241.6h0M369.0 250.1h0M400.7 242.8h0M402.0 237.8h0M434.7 251.1h0M389.7 244.8h0M352.4 222.0h0M373.3 265.9h0M396.2 258.1h0M360.7 251.6h0M382.1 228.3h0M354.2 253.5h0M434.5 253.8h0M428.4 226.3h0M341.0 238.3h0M450.2 240.9h0M407.0 265.3h0M382.2 261.8h0M437.1 241.6h0M388.6 252.9h0M363.2 260.3h0M433.3 230.7h0M330.6 244.2h0M374.8 251.9h0M348.0 220.8h0M359.3 244.8h0M431.8 250.2h0M364.9 246.5h0M356.5 240.5h0M426.4 235.1h0M394.2 236.8h0M405.8 251.9h0M383.7 253.6h0M416.1 260.8h0M366.1 241.3h0M354.5 248.5h0M326.4 244.7h0M386.3 260.8h0M361.2 218.5h0M321.1 236.6h0M375.4 248.7h0M365.3 260.3h0M390.3 219.5h0M435.9 230.3h0M435.2 235.4h0M396.2 236.6h0M408.5 251.9h0M360.2 265.0h0M383.3 264.7h0M341.3 235.4h0M400.3 247.3h0M345.8 239.6h0M412.1 246.4h0M327.9 239.0h0M362.7 255.7h0M348.3 226.3h0M386.6 227.4h0M351.2 257.7h0M366.9 246.8h0M344.8 223.8h0M379.7 221.1h0M381.5 256.0h0M361.8 215.2h0M331.1 251.3h0M377.5 222.0h0M389.4 266.9h0M349.0 229.5h0M318.1 235.6h0M416.6 251.3h0M378.1 265.6h0M365.4 226.5h0M424.4 258.5h0M375.3 237.2h0M375.0 249.8h0M389.5 255.4h0M360.1 234.3h0M370.5 257.8h0M380.0 211.1h0M436.8 251.2h0M435.8 209.7h0M376.7 259.4h0M439.5 232.0h0M383.9 261.1h0M398.2 263.4h0M415.1 239.2h0M395.2 230.9h0M466.6 262.3h0M393.6 222.7h0M345.1 254.6h0M429.3 239.7h0M371.5 235.7h0M375.2 232.2h0M419.0 215.7h0M412.9 232.7h0M412.2 248.6h0M418.3 258.3h0M442.2 269.1h0M383.8 263.7h0M416.9 233.0h0M360.4 247.3h0M373.5 260.0h0M420.9 250.3h0M398.5 216.6h0M340.6 247.1h0M397.5 251.2h0M379.2 220.0h0M357.9 234.3h0M400.0 241.1h0M371.8 251.6h0M332.6 266.8h0M348.0 260.6h0M444.9 249.5h0M334.5 245.3h0M392.9 236.0h0M405.9 232.9h0M406.9 238.2h0M344.2 238.2h0M374.6 258.0h0M390.1 276.5h0M412.3 250.2h0M363.7 257.2h0M346.3 252.3h0M419.1 246.2h0M422.5 261.8h0M397.8 259.7h0M364.9 243.4h0M399.1 239.9h0M389.1 252.4h0M413.5 233.7h0M343.4 245.3h0M389.3 258.2h0M380.0 241.1h0M392.6 252.7h0M386.6 223.0h0M371.6 219.6h0M398.7 217.6h0M337.7 255.0h0M383.6 209.3h0M399.9 239.9h0M394.9 245.9h0M421.6 245.5h0M345.0 232.1h0M334.7 241.0h0M393.4 244.6h0M400.7 221.1h0M456.6 253.4h0M406.1 258.6h0M356.0 229.0h0M412.5 230.4h0M357.0 224.1h0M335.4 259.1h0M473.1 224.3h0M396.3 234.0h0M409.4 213.4h0M404.3 261.9h0M446.3 238.3h0M394.9 246.3h0M426.3 267.4h0M350.8 253.3h0M338.6 223.6h0M433.3 249.3h0M435.0 253.4h0M402.5 227.8h0M393.0 225.8h0M391.0 225.9h0M362.2 254.5h0M437.1 242.7h0M407.5 225.2h0M402.4 252.4h0M398.0 253.9h0M420.6 228.4h0M402.4 216.6h0M410.4 260.4h0M346.1 283.7h0M402.5 265.2h0M458.9 258.1h0M367.9 244.0h0M381.0 231.9h0M415.4 244.1h0M417.6 253.1h0M406.4 239.3h0M331.0 257.3h0M402.2 242.5h0M345.6 252.1h0M403.8 228.6h0M375.4 255.2h0M412.6 257.9h0M491.2 248.8h0M411.5 268.3h0M409.7 253.6h0M355.3 253.7h0M363.8 227.5h0M349.6 248.7h0M367.5 254.5h0M348.7 263.4h0M363.2 260.7h0M378.4 242.8h0M351.7 245.2h0M337.7 223.5h0M339.6 251.9h0M400.6 224.7h0M387.4 237.6h0M419.9 241.9h0M420.5 274.2h0M373.9 262.6h0M407.9 229.8h0M337.0 219.2h0M462.1 238.5h0M425.6 229.5h0M378.2 248.4h0M346.3 247.8h0M398.2 252.5h0M322.5 226.1h0M359.2 236.3h0M410.6 245.6h0M387.9 247.1h0M368.9 232.8h0M368.8 279.5h0M413.6 275.6h0M407.7 266.6h0M382.8 268.8h0M392.0 273.3h0M389.1 258.1h0M380.3 285.5h0M398.1 280.1h0M363.9 273.9h0M379.8 289.1h0M386.9 284.3h0M379.9 286.7h0M378.5 290.8h0M389.8 280.5h0M403.9 283.5h0M405.9 264.0h0M385.6 270.6h0M355.8 278.0h0M356.8 282.0h0M389.9 287.2h0M381.5 267.1h0M400.5 283.4h0M401.4 281.7h0M399.7 271.2h0M379.1 276.3h0M402.1 263.0h0M380.9 288.4h0M406.3 270.6h0M392.1 281.9h0M379.1 265.0h0M396.4 277.2h0M374.7 267.6h0M372.4 282.1h0M365.3 288.7h0M389.0 286.1h0M384.6 281.8h0M384.3 285.4h0M379.7 266.1h0M405.3 264.9h0M379.5 274.1h0M375.4 285.5h0M402.6 277.5h0M405.1 282.5h0M390.1 263.9h0M361.3 273.8h0M434.5 264.0h0M460.3 257.3h0M456.6 229.0h0M458.8 237.8h0M455.8 264.6h0M434.6 224.5h0M479.1 238.9h0M465.9 233.6h0M424.1 254.4h0M440.1 246.2h0M447.9 271.8h0M453.6 270.5h0M461.3 237.0h0M467.8 252.4h0M442.2 249.6h0M469.5 255.4h0M440.4 267.4h0M426.0 226.0h0M429.0 218.4h0M472.7 262.1h0M428.6 237.8h0M426.2 246.0h0M427.2 256.5h0M446.8 256.1h0M423.1 254.0h0M438.8 235.0h0M465.0 237.2h0M441.9 225.4h0M435.3 235.5h0M433.8 213.1h0M471.9 220.9h0M471.1 245.0h0M400.5 251.5h0M424.2 228.9h0M477.9 235.3h0M435.5 245.9h0M415.8 269.9h0M442.8 276.1h0M440.6 238.2h0M440.8 230.9h0M433.2 230.3h0M436.6 266.6h0M433.7 226.3h0M449.3 253.5h0M426.7 237.5h0M437.0 237.0h0M439.9 258.2h0M468.5 254.5h0M450.1 280.2h0M440.6 260.2h0M419.5 231.1h0M411.0 265.7h0M419.3 256.6h0M400.7 249.2h0M402.0 236.4h0M398.9 260.6h0M430.1 245.3h0M417.0 238.4h0M421.8 241.1h0M421.4 240.6h0M413.0 244.8h0M410.6 256.3h0M335.1 236.2h0M411.6 247.3h0M375.0 296.4h0M398.0 227.4h0M375.3 265.3h0M435.3 219.6h0M344.2 249.0h0M434.7 282.3h0M366.8 232.9h0M379.5 248.0h0M422.7 244.8h0M445.7 256.5h0M416.4 272.0h0M355.0 227.4h0M373.0 282.1h0M340.9 242.9h0M434.8 291.6h0M418.0 223.9h0M355.6 259.1h0M343.2 266.3h0M410.8 286.0h0M454.4 254.4h0M376.7 235.3h0M350.6 255.7h0M337.1 275.5h0M424.4 243.2h0M325.4 264.0h0M392.9 282.2h0M396.6 279.5h0M409.8 242.1h0M351.1 248.3h0M376.2 230.9h0M347.8 231.1h0M346.1 226.4h0M432.3 268.3h0M476.1 255.1h0M445.2 268.9h0M450.9 257.2h0M423.1 251.2h0M424.8 215.6h0M388.8 227.1h0M443.6 283.9h0M412.5 263.2h0M459.7 270.5h0M369.5 241.8h0M460.4 250.7h0M353.0 287.6h0M426.9 268.2h0M452.3 238.0h0M433.6 290.1h0M430.1 257.2h0M405.1 281.6h0M370.7 255.0h0M420.3 264.0h0M440.4 278.1h0M449.0 248.2h0M336.4 255.2h0M413.0 214.2h0M329.4 246.5h0M433.5 249.3h0M368.9 231.4h0M342.9 235.9h0M468.9 261.1h0M328.1 254.1h0M460.8 248.9h0M340.9 242.6h0M453.1 270.8h0M456.7 253.8h0M391.2 284.0h0M396.9 289.4h0M372.4 245.5h0M398.0 259.2h0M427.6 294.1h0M399.4 276.9h0M442.3 257.5h0M450.5 223.3h0M413.9 234.6h0M413.2 240.1h0M396.3 297.8h0M414.0 260.1h0M350.6 247.3h0M416.6 249.2h0M407.9 248.7h0M361.5 263.2h0M356.8 225.0h0M361.2 260.1h0M411.0 279.8h0M364.6 270.3h0M332.7 231.3h0M357.0 215.4h0M393.1 279.0h0M412.8 251.5h0M446.8 265.7h0M433.9 246.5h0M450.3 250.8h0M424.4 214.6h0M378.5 244.8h0M447.3 258.2h0M377.7 232.8h0M372.2 264.0h0M465.3 266.1h0M408.4 276.3h0M431.5 268.9h0M437.0 257.0h0M339.6 281.6h0M394.7 305.0h0M347.6 234.4h0M404.1 275.5h0M369.7 270.0h0M457.8 266.3h0M421.3 279.9h0M363.5 281.9h0M398.0 254.4h0M400.6 241.5h0M422.6 241.3h0M410.2 291.6h0M314.9 258.5h0M384.2 284.4h0M420.9 240.7h0M412.1 263.1h0M449.1 257.1h0M342.9 260.0h0M421.5 271.0h0M370.4 291.9h0M407.2 245.0h0" stroke="#c3c5cd" stroke-width="2.10" stroke-linecap="round" fill="none"/>
<path d="M384.0 259.4h0M394.6 271.6h0M382.6 280.7h0M364.8 278.5h0M367.4 272.1h0M388.2 277.4h0M403.8 286.4h0M384.8 290.0h0M376.7 272.2h0M420.1 278.6h0M402.7 269.7h0M407.4 287.7h0M369.7 271.9h0M383.7 273.7h0M418.4 296.1h0M373.5 283.0h0M421.5 275.6h0M396.9 274.4h0M410.0 270.8h0M386.7 280.0h0M392.9 292.9h0M422.2 265.0h0M375.4 280.2h0M424.1 273.5h0M394.1 270.9h0M403.0 264.8h0M381.9 263.5h0M371.5 261.3h0M380.3 256.6h0M374.5 275.8h0M417.4 296.0h0M369.3 279.8h0M361.4 281.7h0M418.9 270.1h0M413.9 275.3h0M416.0 281.5h0M376.1 257.5h0M407.3 278.2h0M391.2 276.5h0M372.8 281.3h0M381.9 286.1h0M402.4 271.6h0M420.3 271.4h0M384.5 260.1h0M368.0 262.3h0M398.1 278.8h0M371.3 294.1h0M400.7 253.6h0M398.8 270.5h0M360.4 257.5h0M434.2 280.9h0M419.0 304.5h0M413.4 255.6h0M365.2 275.2h0M383.6 274.7h0M380.3 275.7h0M383.4 267.7h0M366.6 269.2h0M403.6 298.2h0M398.7 261.7h0M402.0 283.7h0M381.3 282.9h0M423.9 252.9h0M397.7 263.9h0M378.1 301.8h0M391.9 274.3h0M416.2 269.2h0M386.2 277.6h0M387.4 293.5h0M377.6 287.3h0M409.1 293.6h0M382.7 273.6h0M379.0 265.3h0M375.7 262.5h0M406.5 286.5h0M380.6 273.3h0M353.5 268.9h0M408.1 283.5h0M442.3 225.0h0M412.3 228.6h0M431.5 230.9h0M430.6 259.0h0M439.8 229.3h0M410.1 240.1h0M418.4 247.3h0M421.8 223.6h0M464.2 241.2h0M418.8 222.8h0M421.2 223.8h0M419.4 253.0h0M414.5 234.5h0M434.8 244.9h0M433.5 231.4h0M456.2 231.1h0M429.1 241.1h0M413.3 227.2h0M437.9 247.9h0M439.5 226.9h0M434.7 212.1h0M440.7 249.2h0M419.4 256.2h0M436.3 240.6h0M447.7 230.9h0M454.0 232.4h0M413.3 225.7h0M457.9 220.7h0M423.5 230.7h0M412.6 237.1h0M429.5 249.6h0M403.9 248.6h0M432.9 242.6h0M438.6 233.5h0M428.9 234.1h0M443.4 236.8h0M426.6 238.7h0M432.9 229.0h0M404.4 234.2h0M433.7 233.1h0M416.0 233.0h0M423.9 243.6h0M431.0 249.6h0M436.6 230.7h0M400.3 231.7h0" stroke="#dc9320" stroke-width="2.60" stroke-linecap="round" fill="none"/>
<path d="M306.8 194.8V323.1H495.3" stroke="#1a1a1a" stroke-width="1.4" fill="none"/>
<text x="322.1" y="336.9" font-size="8.80" fill="#333" text-anchor="middle" font-weight="normal">−20</text>
<text x="361.6" y="336.9" font-size="8.80" fill="#333" text-anchor="middle" font-weight="normal">−10</text>
<text x="401.2" y="336.9" font-size="8.80" fill="#333" text-anchor="middle" font-weight="normal">0</text>
<text x="440.8" y="336.9" font-size="8.80" fill="#333" text-anchor="middle" font-weight="normal">10</text>
<text x="480.3" y="336.9" font-size="8.80" fill="#333" text-anchor="middle" font-weight="normal">20</text>
<text x="300.2" y="303.9" font-size="8.80" fill="#333" text-anchor="end" font-weight="normal">−20</text>
<text x="300.2" y="279.1" font-size="8.80" fill="#333" text-anchor="end" font-weight="normal">−10</text>
<text x="300.2" y="254.3" font-size="8.80" fill="#333" text-anchor="end" font-weight="normal">0</text>
<text x="300.2" y="229.5" font-size="8.80" fill="#333" text-anchor="end" font-weight="normal">10</text>
<text x="300.2" y="204.7" font-size="8.80" fill="#333" text-anchor="end" font-weight="normal">20</text>
<path d="M322.1 323.1v3.2M361.6 323.1v3.2M401.2 323.1v3.2M440.8 323.1v3.2M480.3 323.1v3.2M306.8 301.3h-3.2M306.8 276.5h-3.2M306.8 251.7h-3.2M306.8 226.9h-3.2M306.8 202.1h-3.2" stroke="#1a1a1a" stroke-width="1.2" fill="none"/>
<text transform="translate(401.1 350.1) scale(0.62 1)" font-size="10.4" fill="#333" stroke="#333" stroke-width="0.18" text-anchor="middle">PC1</text>
<text transform="translate(280.9 259.0) rotate(-90) scale(0.64 1)" font-size="10.4" fill="#333" stroke="#333" stroke-width="0.18" text-anchor="middle">PC2</text>
<text x="277.0" y="197.3" font-size="12.00" fill="#000" text-anchor="start" font-weight="bold" stroke="#000" stroke-width="0.45">D</text>
<text x="308.6" y="312.1" font-size="7.70" fill="#d9a040" text-anchor="start" font-weight="normal">JAK HOM</text>
<text x="308.6" y="320.8" font-size="7.70" fill="#d9a040" text-anchor="start" font-weight="normal">TET HOM</text>
<path d="M42.8 479.3H259.5M160.0 372.5V544.8" stroke="#111" stroke-width="1.35" stroke-dasharray="3.5 2" fill="none"/>
<g font-size="4.7" fill="#4a3440" stroke="#4a3440" stroke-width="0.12" text-anchor="middle" style="font-family:'Liberation Serif',serif"><text x="235.6" y="384.3">Vwf</text><text x="197.5" y="423.9">Gata3</text><text x="176.3" y="438.7">Pbx3</text><text x="248.5" y="448.4">Prdm16</text><text x="188.8" y="455.1">Ikzf2</text><text x="221.2" y="461.2">Sfpi</text><text x="174.4" y="466.2">Mecom</text><text x="136.9" y="435.9">Cd9</text><text x="52.7" y="440.5">Bmi1</text><text x="111.5" y="446.4">Pbx1</text><text x="99.7" y="461.3">Runx1</text><text x="141.1" y="463.4">Hoxb4</text><text x="130.0" y="475.0">Egr1</text><text x="123.6" y="480.7">Ly6a</text><text x="146.9" y="467.8">Sox4</text><text x="150.0" y="466.2">Meis1</text><text x="145.4" y="471.6">Lmo2</text><text x="151.5" y="470.9">Cd34</text><text x="156.2" y="470.1">Kit</text><text x="143.0" y="477.8">Cbl</text><text x="148.5" y="477.8">Myb</text><text x="155.4" y="478.6">Gfi1</text><text x="160.8" y="477.0">Erg</text><text x="164.6" y="475.4">Fli1</text><text x="166.2" y="479.3">Tal1</text><text x="161.5" y="482.4">Ikzf1</text><text x="164.6" y="484.7">Flt3</text><text x="163.0" y="489.4">Mpl</text><text x="172.3" y="470.9">Hlf</text><text x="174.6" y="472.4">Procr</text><text x="173.0" y="474.7">Mllt3</text><text x="190.8" y="480.1">Nfe2</text><text x="179.2" y="493.2">Hlx</text><text x="194.6" y="497.8">Egr2</text><text x="223.5" y="501.6">Dnmt3a</text><text x="189.2" y="512.4">Ngfr</text><text x="229.6" y="540.7">Gfi1b</text><text x="164.8" y="485.9">Fos</text><text x="163.8" y="490.7">Jun</text><text x="158.0" y="480.4">Myc</text></g>
<path d="M235.6 379.3l1.6 2.8h-3.2zM197.5 418.9l1.6 2.8h-3.2zM176.3 433.7l1.6 2.8h-3.2zM248.5 443.4l1.6 2.8h-3.2zM188.8 450.1l1.6 2.8h-3.2zM221.2 456.2l1.6 2.8h-3.2zM174.4 461.2l1.6 2.8h-3.2zM136.9 430.9l1.6 2.8h-3.2zM52.7 435.5l1.6 2.8h-3.2zM111.5 441.4l1.6 2.8h-3.2zM99.7 456.3l1.6 2.8h-3.2zM141.1 458.4l1.6 2.8h-3.2zM130.0 470.0l1.6 2.8h-3.2zM123.6 475.7l1.6 2.8h-3.2zM146.9 462.8l1.6 2.8h-3.2zM150.0 461.2l1.6 2.8h-3.2zM145.4 466.6l1.6 2.8h-3.2zM151.5 465.9l1.6 2.8h-3.2zM156.2 465.1l1.6 2.8h-3.2zM143.0 472.8l1.6 2.8h-3.2zM148.5 472.8l1.6 2.8h-3.2zM155.4 473.6l1.6 2.8h-3.2zM160.8 472.0l1.6 2.8h-3.2zM164.6 470.4l1.6 2.8h-3.2zM166.2 474.3l1.6 2.8h-3.2zM161.5 477.4l1.6 2.8h-3.2zM164.6 479.7l1.6 2.8h-3.2zM163.0 484.4l1.6 2.8h-3.2zM172.3 465.9l1.6 2.8h-3.2zM174.6 467.4l1.6 2.8h-3.2zM173.0 469.7l1.6 2.8h-3.2zM190.8 475.1l1.6 2.8h-3.2zM179.2 488.2l1.6 2.8h-3.2zM194.6 492.8l1.6 2.8h-3.2zM223.5 496.6l1.6 2.8h-3.2zM189.2 507.4l1.6 2.8h-3.2zM229.6 535.7l1.6 2.8h-3.2zM164.8 480.9l1.6 2.8h-3.2zM163.8 485.7l1.6 2.8h-3.2zM158.0 475.4l1.6 2.8h-3.2z" fill="#2e0814" stroke="#f4d8e0" stroke-width="0.5" paint-order="stroke"/>
<path d="M42.8 372.5V544.8H259.5" stroke="#1a1a1a" stroke-width="1.4" fill="none"/>
<text x="43.0" y="558.6" font-size="8.80" fill="#333" text-anchor="middle" font-weight="normal">−0.50</text>
<text x="101.5" y="558.6" font-size="8.80" fill="#333" text-anchor="middle" font-weight="normal">−0.25</text>
<text x="160.0" y="558.6" font-size="8.80" fill="#333" text-anchor="middle" font-weight="normal">0.00</text>
<text x="218.5" y="558.6" font-size="8.80" fill="#333" text-anchor="middle" font-weight="normal">0.25</text>
<text x="36.8" y="516.9" font-size="8.80" fill="#333" text-anchor="end" font-weight="normal" letter-spacing="-0.60">−0.2</text>
<text x="36.8" y="481.9" font-size="8.80" fill="#333" text-anchor="end" font-weight="normal" letter-spacing="-0.60">0.0</text>
<text x="36.8" y="446.9" font-size="8.80" fill="#333" text-anchor="end" font-weight="normal" letter-spacing="-0.60">0.2</text>
<text x="36.8" y="411.9" font-size="8.80" fill="#333" text-anchor="end" font-weight="normal" letter-spacing="-0.60">0.4</text>
<text x="36.8" y="376.9" font-size="8.80" fill="#333" text-anchor="end" font-weight="normal" letter-spacing="-0.60">0.6</text>
<path d="M43.0 544.8v3.2M101.5 544.8v3.2M160.0 544.8v3.2M218.5 544.8v3.2M42.8 514.3h-3.2M42.8 479.3h-3.2M42.8 444.3h-3.2M42.8 409.3h-3.2M42.8 374.3h-3.2" stroke="#1a1a1a" stroke-width="1.2" fill="none"/>
<text transform="translate(151.2 571.8) scale(0.62 1)" font-size="10.4" fill="#333" stroke="#333" stroke-width="0.18" text-anchor="middle">PC1</text>
<text transform="translate(16.5 458.6) rotate(-90) scale(0.64 1)" font-size="10.4" fill="#333" stroke="#333" stroke-width="0.18" text-anchor="middle">PC2</text>
<text x="7.2" y="378.7" font-size="12.00" fill="#000" text-anchor="start" font-weight="bold" stroke="#000" stroke-width="0.45">E</text>
<path d="M472.6 460.8h0M367.3 458.9h0M429.9 481.1h0M378.2 456.3h0M428.9 450.4h0M426.1 449.3h0M413.7 437.4h0M445.9 486.5h0M360.3 428.7h0M411.8 481.0h0M472.9 487.4h0M416.3 492.9h0M467.0 482.6h0M419.3 419.3h0M427.4 434.5h0M421.4 425.7h0M463.5 464.5h0M438.9 478.7h0M419.5 439.1h0M366.1 485.9h0M416.4 458.7h0M387.1 468.5h0M352.7 449.3h0M395.0 504.6h0M436.6 419.3h0M397.7 457.1h0M460.9 434.8h0M392.1 441.0h0M423.4 486.3h0M439.3 473.1h0M444.9 463.4h0M411.1 477.0h0M393.2 507.9h0M466.2 445.4h0M435.2 451.6h0M439.7 483.1h0M435.0 426.8h0M450.8 475.6h0M365.4 471.9h0M450.1 472.6h0M355.6 468.3h0M437.6 449.3h0M359.3 491.1h0M379.2 467.8h0M426.7 461.3h0M432.6 502.2h0M436.3 477.3h0M450.2 479.0h0M367.6 489.1h0M367.7 480.7h0M426.0 429.9h0M452.9 481.0h0M388.0 483.4h0M400.4 479.0h0M391.9 501.5h0M414.3 484.5h0M378.3 435.7h0M444.9 444.3h0M477.9 474.1h0M426.0 469.9h0M403.8 434.5h0M343.7 471.5h0M469.2 463.9h0M397.4 448.2h0M466.5 493.1h0M362.7 493.9h0M381.9 474.4h0M478.1 457.7h0M392.2 456.8h0M431.3 453.5h0M397.9 465.3h0M358.1 446.8h0M367.0 451.1h0M392.6 442.4h0M418.5 491.6h0M349.4 467.9h0M426.2 468.2h0M361.2 435.3h0M422.0 455.0h0M378.8 450.2h0M440.1 487.8h0M380.3 446.6h0M435.4 469.9h0M393.4 497.9h0M402.1 437.3h0M440.9 432.8h0M438.9 455.9h0M356.8 460.3h0M409.6 470.5h0M402.2 453.2h0M458.0 477.7h0M436.5 470.5h0M410.7 486.2h0M440.8 442.5h0M468.2 470.4h0M480.5 441.8h0M445.0 474.5h0M375.9 442.0h0M397.6 461.0h0M473.2 458.1h0M412.9 434.0h0M350.8 438.3h0M440.3 480.5h0M448.6 475.1h0M468.6 447.2h0M398.1 483.0h0M471.6 462.0h0M455.9 450.0h0M358.1 495.2h0M397.8 467.1h0M460.1 489.5h0M453.6 484.8h0M421.8 453.1h0M398.2 475.4h0M434.6 499.1h0M417.2 498.0h0M363.3 479.1h0M364.7 467.5h0M361.8 484.8h0M381.0 455.7h0M389.9 475.9h0M457.1 483.4h0M371.5 434.0h0M340.1 448.8h0M347.8 450.7h0M432.2 489.2h0M410.0 441.9h0M375.0 462.2h0M418.9 492.7h0M387.4 457.0h0M451.4 492.4h0M372.3 478.4h0M445.4 448.7h0M366.7 450.9h0M454.9 436.7h0M374.8 462.6h0M357.5 443.2h0M396.6 449.7h0M440.4 499.9h0M439.4 478.8h0M410.8 471.6h0M403.7 505.2h0M424.6 483.4h0M440.4 475.1h0M436.9 447.3h0M410.1 466.4h0M452.2 439.1h0M405.9 436.5h0M421.9 497.0h0M438.4 445.9h0M457.5 473.0h0M452.5 479.7h0M462.8 468.5h0M368.4 496.6h0M457.2 473.4h0M387.2 472.1h0M389.5 472.3h0M391.4 480.9h0M360.7 472.2h0M352.0 486.5h0M380.4 504.4h0M458.1 478.6h0M435.9 458.0h0M414.0 440.1h0M442.9 463.3h0M434.4 465.5h0M427.4 436.3h0M458.4 492.9h0M398.9 462.7h0M369.5 484.2h0M401.7 454.0h0M470.7 461.7h0M416.6 432.0h0M396.8 460.0h0M370.2 445.3h0M409.8 452.0h0M438.3 464.9h0M368.6 440.2h0M401.0 447.1h0M480.6 460.1h0M462.6 492.5h0M376.9 430.3h0M467.4 464.9h0M363.2 500.9h0M389.1 470.4h0M394.5 492.8h0M384.9 452.4h0M451.8 436.0h0M402.6 468.3h0M371.1 458.2h0M472.8 442.6h0M384.9 461.9h0M382.0 493.7h0M475.2 503.2h0M395.8 490.6h0M345.8 470.1h0M411.1 476.3h0M451.2 454.3h0M479.2 467.1h0M400.3 461.2h0M386.3 447.7h0M485.0 458.6h0M386.8 444.1h0M477.2 499.0h0M419.5 465.7h0M419.6 476.7h0M397.3 464.5h0M422.4 468.3h0M386.5 484.1h0M376.4 476.5h0M402.0 442.2h0M377.7 481.8h0M422.8 500.1h0M412.4 451.5h0M396.0 441.5h0M399.0 474.3h0M397.6 463.8h0M490.5 489.3h0M408.0 472.5h0M380.4 437.8h0M394.5 445.9h0M439.7 463.2h0M399.0 474.3h0M401.3 510.1h0M396.3 458.7h0M416.2 454.9h0M426.8 439.2h0M429.3 413.8h0M331.2 457.0h0M358.0 441.7h0M446.2 435.2h0M460.7 444.0h0M469.7 431.0h0M415.2 449.1h0M462.6 455.0h0M406.6 427.9h0M402.7 484.4h0M335.7 449.9h0M371.5 438.3h0M380.5 487.5h0M451.7 497.2h0M486.6 455.4h0M386.3 463.5h0M425.9 450.8h0M421.4 449.8h0M371.9 486.9h0M327.2 457.8h0M372.8 437.1h0M340.6 476.0h0M393.4 474.2h0M401.7 496.3h0M399.8 445.2h0M400.4 415.3h0M431.1 502.6h0M364.4 446.6h0M450.2 442.9h0M329.5 481.3h0M411.2 476.4h0M426.6 494.0h0M371.0 487.1h0M333.1 462.2h0M438.3 449.4h0M376.5 463.5h0M445.1 444.1h0M444.4 461.1h0M407.9 497.2h0M408.1 428.4h0M454.7 435.4h0M425.9 485.1h0M416.1 454.1h0M434.3 462.9h0M401.3 508.5h0M402.6 447.7h0M364.2 472.8h0M340.9 491.2h0M461.2 426.7h0M378.3 453.5h0M418.7 499.8h0M337.6 483.6h0M415.7 444.1h0M369.3 419.4h0M360.3 459.7h0M362.8 476.3h0M452.5 512.1h0M461.6 470.6h0M420.2 480.3h0M449.4 423.7h0M350.7 452.7h0M440.3 445.6h0M383.4 450.4h0M361.3 456.8h0M391.7 440.6h0M386.5 496.7h0M342.9 475.5h0M386.8 485.2h0M373.1 477.6h0M448.2 434.3h0M404.7 425.7h0M470.7 481.9h0M395.6 487.4h0M424.6 450.6h0M412.5 458.8h0M416.0 483.6h0M398.4 450.2h0M403.2 451.4h0M486.7 463.8h0M382.5 430.2h0M392.0 444.5h0M434.9 439.0h0M451.9 437.0h0M345.4 484.7h0M420.3 457.4h0M399.9 463.9h0M394.7 480.8h0M415.8 459.0h0M420.9 467.3h0M414.9 478.6h0M341.3 444.0h0M403.7 507.8h0M480.7 444.1h0M390.0 465.5h0M435.9 458.5h0M370.2 421.5h0M389.5 488.5h0M469.0 448.8h0M446.3 481.7h0M375.1 476.5h0M402.2 477.3h0M375.8 460.2h0M428.3 447.9h0M365.5 473.3h0M334.8 460.0h0M468.6 454.2h0M433.5 485.5h0M406.8 488.2h0M398.9 433.2h0M387.6 463.8h0M403.1 482.6h0M406.5 452.1h0M366.3 457.0h0M405.0 471.7h0M454.5 457.5h0M374.7 486.0h0M420.2 467.8h0M354.6 476.2h0M426.1 445.6h0M438.1 468.1h0M450.5 475.5h0M428.4 468.3h0M473.9 489.5h0M361.9 430.6h0M458.2 455.0h0M382.9 443.4h0M379.5 485.9h0M459.4 476.2h0M419.2 439.1h0M470.1 503.5h0M340.9 456.0h0M421.1 463.3h0M383.9 478.9h0M395.8 463.3h0M436.0 507.7h0M438.2 509.7h0M435.6 509.7h0M442.2 509.0h0M413.8 508.5h0M437.5 511.9h0M435.2 504.4h0M410.2 509.0h0M444.7 505.2h0M413.3 497.4h0M422.1 499.6h0M444.6 502.3h0M425.6 512.0h0M417.7 511.6h0M424.9 500.4h0M410.5 499.0h0M421.0 503.4h0M445.1 501.4h0M441.6 504.8h0M441.8 505.4h0M418.0 507.4h0M442.0 502.4h0M433.6 505.4h0M414.3 512.0h0M426.7 497.3h0M433.1 506.7h0M408.4 500.8h0M440.3 501.6h0M413.3 504.0h0M442.9 505.2h0M438.9 509.9h0M411.9 508.4h0M443.3 505.6h0M414.6 498.2h0M422.5 513.4h0M414.0 511.9h0M426.5 502.1h0M423.0 496.7h0M431.7 496.7h0M430.6 510.8h0M467.6 480.9h0M461.5 492.2h0M469.2 486.9h0M456.8 485.9h0M466.3 489.7h0M375.5 435.8h0M340.1 439.5h0M366.7 436.3h0M374.3 458.7h0M374.1 461.1h0M372.4 427.7h0M354.6 433.3h0M354.6 477.5h0M374.4 469.4h0M378.9 462.3h0M347.3 470.8h0M371.3 435.0h0M365.3 477.0h0M356.1 468.7h0M367.2 427.7h0M358.9 457.5h0M356.9 464.1h0M355.6 429.4h0M369.8 430.5h0M366.3 445.6h0M378.6 457.3h0M346.5 469.3h0M348.6 443.2h0M353.5 455.0h0M355.1 431.7h0M359.6 476.0h0M335.7 432.5h0M367.9 471.5h0M363.2 461.2h0M363.3 423.8h0M348.9 441.8h0M341.1 442.5h0M340.9 466.7h0M349.0 435.1h0M370.3 445.1h0M343.9 463.5h0M379.6 458.1h0M355.1 469.8h0M357.5 441.6h0M351.4 466.5h0M356.6 427.8h0M361.5 470.4h0M335.1 433.8h0M343.7 465.5h0M333.4 444.7h0M340.1 467.8h0M341.2 439.0h0M354.9 431.3h0M350.6 431.3h0M347.9 454.2h0M462.5 425.1h0M481.6 440.4h0M457.7 463.7h0M467.8 455.8h0M447.2 433.2h0M473.7 432.1h0M460.2 431.6h0M446.2 453.2h0M460.3 478.1h0M462.4 446.5h0M468.9 443.6h0M465.6 466.9h0M457.1 425.9h0M465.7 429.7h0M481.6 451.6h0M453.0 463.1h0M455.5 458.7h0M466.0 453.0h0M467.8 460.6h0M462.7 440.7h0M460.6 471.1h0M475.3 443.4h0M453.1 476.2h0M469.6 427.2h0M451.6 467.5h0M463.4 441.0h0M450.5 457.7h0M463.9 456.3h0M468.4 473.1h0M459.6 468.3h0M479.9 469.7h0M472.1 440.7h0M482.5 440.3h0M467.3 435.8h0M482.4 452.6h0M473.6 441.2h0M469.0 428.7h0M469.2 441.3h0M456.5 444.1h0M464.4 457.9h0M458.6 467.9h0M447.2 466.8h0M469.5 468.8h0M484.7 456.3h0M480.6 446.0h0" stroke="#b0b8d0" stroke-width="2.00" stroke-linecap="round" fill="none"/>
<path d="M372.7 496.1h0M374.0 462.1h0M363.5 470.0h0M375.0 483.3h0M383.0 483.0h0M452.4 456.4h0M444.1 466.3h0M405.6 469.1h0M404.2 433.2h0M383.8 448.3h0M412.5 439.7h0M381.8 487.9h0M423.2 466.2h0M377.3 458.2h0M398.3 447.0h0M407.0 460.8h0M421.6 471.4h0M431.3 454.1h0M439.1 461.6h0M391.0 448.0h0M464.8 471.4h0M448.5 442.2h0M362.8 486.7h0M410.5 445.2h0M471.1 460.8h0M441.2 446.1h0M417.9 453.0h0M422.1 484.1h0M401.7 442.1h0M408.0 444.1h0M430.6 439.9h0M428.3 488.7h0M380.3 433.7h0M370.1 491.1h0M404.5 455.3h0M388.6 455.2h0M412.3 476.0h0M412.8 446.9h0M391.0 503.0h0M442.1 441.8h0M395.3 432.6h0M453.4 456.8h0M376.4 492.5h0M406.2 495.3h0M393.7 470.6h0M421.0 499.3h0M396.3 465.2h0M425.5 439.6h0M428.4 471.7h0M388.9 468.6h0M383.4 472.9h0M370.6 489.9h0M412.8 481.4h0M410.0 476.3h0M368.2 488.7h0M404.2 434.3h0M405.0 488.2h0M399.6 469.5h0M409.6 472.1h0M414.8 455.9h0M436.3 443.6h0M422.7 504.8h0M433.5 446.5h0M425.6 481.8h0M382.0 492.1h0M407.5 430.9h0M395.3 440.1h0M414.9 437.2h0M350.5 460.9h0M388.0 494.4h0M404.1 487.0h0M396.7 503.4h0M373.1 441.1h0M372.6 443.6h0M411.3 486.6h0M424.1 469.8h0M407.3 442.1h0M388.4 461.0h0M397.9 435.2h0M448.0 473.0h0M465.5 464.1h0M431.3 483.3h0M386.4 448.5h0M371.3 447.4h0M379.4 502.3h0M393.2 473.8h0M416.5 477.5h0M357.0 471.0h0M384.7 446.6h0M448.9 469.1h0M415.9 462.9h0M461.7 472.4h0M429.2 490.6h0M364.5 496.6h0M380.7 478.9h0M449.1 482.8h0M364.6 455.9h0M421.9 497.3h0M416.3 478.0h0M357.3 449.7h0M377.1 487.9h0M440.0 457.6h0M417.2 457.2h0M406.7 486.6h0M373.1 435.6h0M450.9 488.7h0M442.1 455.8h0M428.8 440.4h0M430.7 499.0h0M391.0 458.9h0M425.1 446.3h0M424.8 499.5h0M421.4 436.1h0M428.5 470.1h0M399.5 443.6h0M437.2 496.3h0M364.2 464.6h0M421.5 473.0h0M398.0 442.5h0M379.7 447.0h0M367.6 457.6h0M369.0 482.2h0M401.9 480.6h0M402.7 479.1h0M408.4 456.2h0M450.2 470.0h0M392.8 497.9h0M395.4 484.1h0M353.6 486.4h0M354.0 469.6h0M444.1 486.4h0M380.6 435.9h0M391.3 503.2h0M445.2 480.7h0M423.0 443.9h0M406.9 437.4h0M452.8 458.2h0M372.0 455.1h0M408.4 494.8h0M398.7 451.1h0M467.2 467.5h0M405.4 448.6h0M385.3 455.8h0M397.8 463.3h0M386.9 434.6h0M454.3 469.5h0M411.4 425.3h0M405.6 437.4h0M400.2 494.6h0M372.5 445.8h0M356.1 457.8h0M389.6 445.4h0M418.2 446.6h0M413.1 433.1h0M430.9 482.6h0M348.6 460.7h0M386.8 450.1h0M415.9 442.0h0M413.1 477.9h0M406.9 470.6h0M400.3 471.9h0M424.2 498.7h0M405.7 448.5h0M458.0 445.9h0M396.2 483.2h0M381.0 438.3h0M393.2 491.2h0M423.2 446.6h0M386.8 446.3h0M394.0 499.5h0M400.4 468.1h0M380.8 454.2h0M421.1 445.5h0M437.5 452.7h0M384.7 478.1h0M431.8 485.3h0M441.9 461.2h0M385.2 442.4h0M434.2 440.5h0M451.3 456.1h0M413.1 482.8h0M457.7 469.4h0M410.5 501.1h0M426.5 456.6h0M376.0 456.8h0M382.9 470.0h0M409.2 479.6h0M453.3 465.8h0M377.5 467.3h0M413.9 472.5h0M383.3 474.8h0M371.0 498.4h0M423.9 466.7h0M437.5 493.8h0M350.7 485.3h0M400.3 448.7h0M431.4 448.9h0M429.6 454.1h0M378.4 491.0h0M406.2 500.6h0M429.7 485.4h0M420.3 476.0h0M411.2 457.8h0M376.2 441.3h0M402.9 468.6h0M361.4 479.9h0M356.9 458.8h0M415.3 462.1h0M436.0 488.0h0M410.9 485.1h0M410.8 496.4h0M391.0 448.9h0M392.0 462.7h0M356.3 489.9h0M405.7 462.9h0M354.1 452.6h0M415.6 460.5h0M436.9 461.8h0M416.1 434.2h0M430.5 499.9h0M387.3 498.0h0M356.9 456.5h0M365.7 454.1h0M402.5 434.0h0M408.8 492.5h0M386.3 465.5h0M422.8 456.7h0M365.0 488.9h0M455.4 465.7h0M463.1 448.7h0M431.5 465.7h0M455.3 440.1h0M381.9 429.0h0M464.0 473.6h0M424.9 469.8h0M408.1 460.8h0M409.0 487.0h0M389.8 485.1h0M366.0 448.6h0M415.5 485.0h0M377.8 489.4h0M416.6 456.6h0M364.9 465.8h0M401.6 488.0h0M372.0 489.9h0M358.3 474.2h0M414.0 485.9h0M449.1 443.6h0M432.1 465.0h0M449.3 461.4h0M368.6 491.1h0M371.9 461.3h0M428.9 487.0h0M467.3 474.8h0M453.5 445.3h0M367.1 438.2h0M350.8 455.7h0M354.2 475.2h0M420.4 475.8h0M363.5 493.9h0M391.1 462.9h0M369.5 498.3h0M376.0 431.5h0M372.2 480.8h0M449.6 453.5h0M354.3 478.2h0M381.5 463.4h0M371.2 493.0h0M418.9 476.0h0M370.3 478.6h0M394.5 484.7h0M435.6 441.6h0M405.2 476.4h0M384.3 486.2h0M387.5 504.3h0M387.3 459.7h0M440.4 479.3h0M423.1 492.0h0M378.7 462.3h0M438.2 487.8h0M349.8 485.7h0M438.3 490.0h0M420.0 485.8h0M449.2 452.0h0M431.0 452.3h0M377.8 456.1h0M378.5 470.7h0M388.2 490.8h0M391.3 471.2h0M430.1 495.0h0M412.9 475.8h0M438.2 444.5h0M396.6 450.3h0M402.0 488.3h0M444.6 467.8h0M362.3 493.7h0M432.3 448.3h0M355.7 469.3h0M453.6 464.2h0M453.8 448.8h0M355.9 465.5h0M442.7 475.5h0M431.6 488.7h0M423.0 469.7h0M370.2 498.3h0M439.2 492.8h0M397.9 437.3h0M402.7 485.8h0M388.5 455.7h0M410.8 443.1h0M373.6 437.8h0M395.3 458.1h0M415.0 476.1h0M400.8 445.4h0M377.8 456.0h0M405.2 467.6h0M402.3 481.4h0M435.8 474.2h0M396.2 464.5h0M410.8 480.0h0M417.1 464.3h0M381.3 490.5h0M429.7 444.0h0M364.0 484.0h0M428.5 447.6h0M419.3 481.5h0M394.3 470.0h0M374.4 471.2h0M454.7 450.3h0M357.3 471.8h0M429.0 501.6h0M449.6 457.0h0M389.0 459.3h0M342.2 468.3h0M372.8 493.1h0M426.6 491.0h0M447.0 485.6h0M411.7 456.2h0M431.6 486.3h0M442.4 446.9h0M463.9 465.1h0M405.6 453.2h0M416.7 458.4h0M412.7 486.8h0M381.7 476.8h0M386.3 462.8h0M429.3 476.8h0M367.4 484.2h0M398.0 483.3h0M402.2 440.1h0M433.9 473.0h0M438.4 442.2h0M439.9 470.8h0M421.5 491.4h0M419.4 453.0h0M389.8 446.6h0M380.6 481.3h0M437.7 453.5h0M375.2 467.9h0M375.6 443.7h0M427.3 458.3h0M378.5 480.4h0M363.5 461.0h0M425.4 457.2h0M400.0 485.4h0M373.9 460.1h0M462.9 472.0h0M385.3 457.2h0M441.4 451.9h0M396.1 434.9h0M412.8 453.3h0M439.5 461.6h0M381.3 446.6h0M420.4 444.9h0M425.0 438.5h0M395.6 468.3h0M422.0 445.1h0M438.2 473.8h0M420.2 454.4h0M420.5 450.0h0M368.4 491.8h0M443.2 488.1h0M384.3 467.9h0M408.6 481.9h0M419.6 482.3h0M374.8 486.2h0M378.8 438.8h0M409.1 489.5h0M392.0 480.7h0M398.7 497.4h0M399.1 465.6h0M430.6 498.1h0M436.1 468.3h0M364.4 457.2h0M386.2 480.6h0M441.2 458.0h0M382.2 492.5h0M388.7 457.8h0M431.2 468.1h0M386.9 430.2h0M460.6 449.4h0M420.6 485.4h0M426.1 465.9h0M415.5 438.5h0M389.4 451.8h0M461.7 451.5h0M443.9 483.6h0M446.5 470.9h0M377.9 471.8h0M353.9 482.6h0M424.8 483.1h0M419.3 467.8h0M442.4 444.4h0M408.7 477.5h0M380.5 466.9h0M365.8 467.3h0M368.9 442.2h0M383.8 450.4h0M386.7 458.5h0M448.1 482.5h0M358.2 493.3h0M403.5 472.1h0M382.7 502.0h0M415.4 447.2h0M391.1 491.9h0M408.0 504.2h0M387.2 459.5h0M432.7 465.7h0M449.9 468.9h0M435.3 473.6h0M410.6 480.7h0M363.9 457.6h0M432.8 433.6h0M408.3 484.1h0M431.5 448.6h0M405.3 467.8h0M379.1 470.6h0M423.1 477.4h0M392.6 461.6h0M450.9 438.7h0M415.8 480.5h0M388.0 458.4h0M398.8 465.7h0M444.0 464.9h0M394.4 457.8h0M430.3 489.4h0M358.5 461.8h0M407.8 456.8h0M428.7 492.0h0M375.9 477.7h0M374.0 472.8h0M415.3 473.5h0M402.0 453.2h0M396.8 467.3h0M413.8 465.9h0M414.4 503.9h0M370.4 495.2h0M380.3 462.2h0M448.9 463.4h0M373.5 489.5h0M447.9 454.4h0M435.0 486.2h0M404.8 490.6h0M424.7 486.2h0M437.8 468.6h0M429.0 470.5h0M400.7 475.8h0M398.1 447.1h0M450.0 478.9h0M367.2 438.1h0M395.2 496.3h0M414.8 471.5h0M403.2 482.1h0M412.3 449.5h0M419.0 449.8h0M407.5 458.1h0M392.5 479.1h0M472.7 467.5h0M387.0 466.4h0M386.1 455.2h0M353.1 485.0h0M447.5 473.4h0M416.6 465.0h0M424.2 468.0h0M412.5 489.4h0M401.0 428.8h0M376.2 481.3h0M376.4 452.0h0M422.7 465.3h0M410.9 440.8h0M387.6 475.4h0M367.2 499.9h0M458.9 467.2h0M435.7 458.1h0M400.9 481.4h0M434.0 438.1h0M391.5 474.6h0M406.6 477.3h0M376.9 438.7h0M419.9 489.7h0M386.3 446.1h0M386.7 455.3h0M399.2 454.9h0M379.2 485.1h0M422.4 465.0h0M385.4 463.9h0M437.0 482.1h0M423.2 484.4h0M397.5 486.5h0M386.8 502.4h0M452.2 471.4h0M397.1 506.4h0M430.4 468.6h0M388.0 472.4h0M422.7 449.9h0M384.3 438.5h0M392.3 503.3h0M417.5 439.7h0M383.8 465.1h0M419.6 471.7h0M398.6 484.7h0M400.9 437.0h0M383.6 457.3h0M374.5 480.4h0M421.8 486.5h0M387.8 480.4h0M427.0 456.3h0M411.9 495.9h0M347.4 470.5h0M378.5 479.7h0M441.3 488.5h0M396.6 460.8h0M375.7 457.2h0M425.7 495.3h0M416.4 441.7h0M431.2 462.8h0M375.0 457.9h0M396.0 482.5h0M396.9 479.6h0M405.7 459.4h0M397.5 497.1h0M355.4 470.4h0M459.6 448.7h0M437.5 453.6h0M388.1 491.2h0M443.2 470.2h0M398.9 471.4h0M429.9 455.2h0M372.2 454.4h0M384.2 501.7h0M405.7 467.7h0M405.6 499.4h0M370.3 444.3h0M401.4 490.1h0M386.3 453.0h0M404.1 438.2h0M442.6 460.8h0M416.6 477.1h0M406.8 477.4h0M411.3 469.4h0M411.6 495.7h0M428.6 493.5h0M406.9 454.6h0M425.9 450.1h0M356.8 484.0h0M413.8 444.1h0M352.8 461.8h0M394.2 484.4h0M398.5 493.4h0M429.9 432.0h0M421.5 467.1h0M454.2 461.0h0M430.5 495.1h0M411.6 492.2h0M364.3 463.8h0M413.7 476.8h0M432.7 477.3h0M367.6 462.9h0M383.5 465.0h0M424.8 434.9h0M398.1 470.7h0M416.5 435.4h0M388.6 483.6h0M407.7 479.0h0M356.1 460.7h0M431.8 464.3h0M403.0 489.8h0M417.0 475.9h0M431.4 447.9h0M386.8 444.3h0M438.5 448.4h0M454.4 449.8h0M422.0 478.4h0M382.9 448.2h0M417.2 471.8h0M353.5 445.1h0M355.7 423.6h0M363.5 445.6h0M354.6 467.8h0M351.9 475.3h0M381.6 446.7h0M372.2 433.1h0M351.5 441.6h0M362.9 422.6h0M352.5 445.1h0M354.2 455.2h0M335.6 440.1h0M356.9 477.8h0M372.9 463.5h0M343.1 473.0h0M363.5 428.2h0M360.9 456.5h0M375.6 456.4h0M358.1 475.3h0M359.9 430.1h0M372.2 433.6h0M353.4 469.6h0M364.1 447.7h0M332.1 453.7h0M351.4 437.8h0M350.2 438.6h0M347.2 453.6h0M364.3 435.7h0M369.2 438.9h0M344.6 452.3h0M352.7 461.1h0M372.1 442.5h0M355.1 447.0h0M344.1 465.4h0M360.4 458.1h0M348.5 456.5h0M347.6 453.5h0M365.3 425.4h0M349.0 425.0h0M330.3 448.1h0M453.7 465.2h0M481.4 455.6h0M462.4 460.8h0M474.8 473.2h0M443.2 459.0h0M458.4 453.6h0M454.9 460.0h0M480.5 439.5h0M458.7 456.3h0M464.3 455.9h0M470.8 449.0h0M457.2 444.1h0M483.2 444.9h0M442.8 459.2h0M448.7 439.5h0M456.7 465.1h0M483.7 446.5h0M459.9 473.2h0M468.4 449.2h0M457.3 461.8h0M465.2 429.6h0M452.1 435.8h0M465.6 435.3h0M468.0 470.9h0M474.8 451.9h0M444.6 452.4h0M471.0 456.6h0M453.2 427.5h0M482.2 463.5h0M452.9 436.7h0M458.1 425.9h0M468.7 473.3h0M476.6 465.7h0M475.8 468.3h0M451.9 433.1h0" stroke="#2e3f6c" stroke-width="1.90" stroke-linecap="round" fill="none"/>
<path d="M315.7 469.5h0M484.4 473.5h0M488.3 473.5h0M502.7 473.7h0M477.7 487.5h0M495.8 444.3h0M464.2 415.0h0M434.4 423.5h0M408.7 411.7h0M320.0 452.0h0M339.0 489.0h0M498.0 478.0h0" stroke="#2a3556" stroke-width="2" stroke-linecap="round" fill="none"/>
<defs>
<linearGradient id="gr" x1="0" y1="0.3" x2="1" y2="0.65"><stop offset="0" stop-color="#bf4656" stop-opacity="0.9"/><stop offset="0.4" stop-color="#dc98a0" stop-opacity="0.7"/><stop offset="0.8" stop-color="#f2d4d6" stop-opacity="0.45"/><stop offset="1" stop-color="#faeeee" stop-opacity="0.2"/></linearGradient>
<linearGradient id="gg" x1="1" y1="0.35" x2="0" y2="0.65"><stop offset="0" stop-color="#5ca83a" stop-opacity="0.88"/><stop offset="0.45" stop-color="#a8d090" stop-opacity="0.65"/><stop offset="1" stop-color="#eef6e8" stop-opacity="0.2"/></linearGradient>
<radialGradient id="go" cx="418" cy="466" r="52" gradientUnits="userSpaceOnUse"><stop offset="0.55" stop-color="#f8e0c0" stop-opacity="0"/><stop offset="0.75" stop-color="#f2c890" stop-opacity="0.45"/><stop offset="0.9" stop-color="#e6a650" stop-opacity="0.8"/><stop offset="1" stop-color="#e09a3c" stop-opacity="0.9"/></radialGradient>
<linearGradient id="gol" x1="385" y1="0" x2="478" y2="0" gradientUnits="userSpaceOnUse"><stop offset="0" stop-color="#fff" stop-opacity="0"/><stop offset="0.4" stop-color="#fff" stop-opacity="1"/><stop offset="0.7" stop-color="#fff" stop-opacity="0.9"/><stop offset="1" stop-color="#fff" stop-opacity="0.45"/></linearGradient>
<filter id="fb" x="-30%" y="-30%" width="160%" height="160%"><feGaussianBlur stdDeviation="3.2"/></filter>
<clipPath id="co"><path d="M384 494 C390 503 396 509 405 513.5 C418 518 432 517 442 514 C447 512 449 509 451 504 C453 499 454 495 457 492 C461 487 465 484 471 481 C475 479 478 477 481 474 L481 440 L384 440 Z"/></clipPath>
<linearGradient id="gos" x1="388" y1="0" x2="480" y2="0" gradientUnits="userSpaceOnUse"><stop offset="0" stop-color="#f6dcb8" stop-opacity="0.15"/><stop offset="0.3" stop-color="#e8aa58" stop-opacity="0.85"/><stop offset="0.5" stop-color="#e09432" stop-opacity="1"/><stop offset="0.66" stop-color="#e09432" stop-opacity="1"/><stop offset="0.8" stop-color="#eab060" stop-opacity="0.8"/><stop offset="1" stop-color="#f2d09c" stop-opacity="0.5"/></linearGradient>
<mask id="mo"><rect x="380" y="460" width="110" height="70" fill="url(#gol)"/></mask>
<linearGradient id="ga" x1="0" y1="0" x2="1" y2="0"><stop offset="0" stop-color="#fff"/><stop offset="0.5" stop-color="#eee"/><stop offset="1" stop-color="#999"/></linearGradient>
<linearGradient id="ga2" x1="1" y1="0" x2="0" y2="0"><stop offset="0" stop-color="#fff"/><stop offset="0.5" stop-color="#eee"/><stop offset="1" stop-color="#999"/></linearGradient>
<linearGradient id="ga3" x1="0" y1="1" x2="0" y2="0"><stop offset="0" stop-color="#fff"/><stop offset="0.5" stop-color="#eee"/><stop offset="1" stop-color="#999"/></linearGradient>
</defs>
<path d="M355 421 C370 420.5 381 428 384 438 C387 452 383 468 374 476 C366 482 354 483 346 480 C336 475 330 463 329.5 449 C329.5 433 340 421.5 355 421 Z" fill="url(#gr)"/>
<path d="M462.6 426.7 C476 427 485 438 486.1 452 C487 463 483 471 477 476 C468 481 452 478 445 470 C440 462 440 445 445 436 C450 429 456 426.7 462.6 426.7 Z" fill="url(#gg)"/>
<g clip-path="url(#co)"><path d="M390 499 C397 506 405 511 419 514 C430 515 440 514 446 508 C450 502 452 495 458 489 C464 484 471 480 483 473" stroke="url(#gos)" stroke-width="14" fill="none" filter="url(#fb)"/></g>
<g stroke="#111" stroke-width="1.4" stroke-linejoin="miter">
<path d="M410.5 468 L376.4 451.6 L377.5 446.9 L364.2 451.6 L371.1 464.9 L373.2 460.6 Z" fill="url(#ga)"/>
<path d="M409.2 468 L443.1 450.6 L442 446.9 L455.8 451.6 L448.4 462.8 L446.3 459.6 Z" fill="url(#ga2)"/>
<path d="M409.9 468.2 L418.6 496.3 L416 498.5 L428.5 504.5 L431.6 490.3 L428.1 492.4 Z" fill="url(#ga3)"/>
</g>
<path id="pr" d="M353.80 486.36 A35.20 35.20 0 1 1 375.23 420.42" fill="none"/>
<path id="pg" d="M436.17 424.24 A37.50 37.50 0 1 1 457.15 495.06" fill="none"/>
<path id="po" d="M364.02 482.11 A53.70 53.70 0 1 0 467.66 461.02" fill="none"/>
<g fill="#2a2a2a" stroke="#2a2a2a" stroke-width="0.22" text-anchor="middle">
<text font-size="7.7"><textPath href="#pr" startOffset="50%">Hyper-proliferation</textPath></text>
<text font-size="7.3"><textPath href="#pg" startOffset="50%">Self-renewal</textPath></text>
<text font-size="8.0"><textPath href="#po" startOffset="50%">Self-renewal + hyper-proliferation</textPath></text>
</g>
<path d="M306.8 405.5V544.6H512.0" stroke="#1a1a1a" stroke-width="1.4" fill="none"/>
<text x="323.7" y="558.4" font-size="8.80" fill="#333" text-anchor="middle" font-weight="normal">−20</text>
<text x="366.6" y="558.4" font-size="8.80" fill="#333" text-anchor="middle" font-weight="normal">−10</text>
<text x="409.5" y="558.4" font-size="8.80" fill="#333" text-anchor="middle" font-weight="normal">0</text>
<text x="452.4" y="558.4" font-size="8.80" fill="#333" text-anchor="middle" font-weight="normal">10</text>
<text x="495.3" y="558.4" font-size="8.80" fill="#333" text-anchor="middle" font-weight="normal">20</text>
<text x="300.2" y="523.4" font-size="8.80" fill="#333" text-anchor="end" font-weight="normal">−20</text>
<text x="300.2" y="496.4" font-size="8.80" fill="#333" text-anchor="end" font-weight="normal">−10</text>
<text x="300.2" y="469.5" font-size="8.80" fill="#333" text-anchor="end" font-weight="normal">0</text>
<text x="300.2" y="442.6" font-size="8.80" fill="#333" text-anchor="end" font-weight="normal">10</text>
<text x="300.2" y="415.6" font-size="8.80" fill="#333" text-anchor="end" font-weight="normal">20</text>
<path d="M323.7 544.6v3.2M366.6 544.6v3.2M409.5 544.6v3.2M452.4 544.6v3.2M495.3 544.6v3.2M306.8 520.8h-3.2M306.8 493.8h-3.2M306.8 466.9h-3.2M306.8 440.0h-3.2M306.8 413.0h-3.2" stroke="#1a1a1a" stroke-width="1.2" fill="none"/>
<text transform="translate(409.4 571.6) scale(0.62 1)" font-size="10.4" fill="#333" stroke="#333" stroke-width="0.18" text-anchor="middle">PC1</text>
<text transform="translate(280.9 475.1) rotate(-90) scale(0.64 1)" font-size="10.4" fill="#333" stroke="#333" stroke-width="0.18" text-anchor="middle">PC2</text>
<text x="277.4" y="378.6" font-size="12.00" fill="#000" text-anchor="start" font-weight="bold" stroke="#000" stroke-width="0.45">F</text>
</svg>
</body></html>
